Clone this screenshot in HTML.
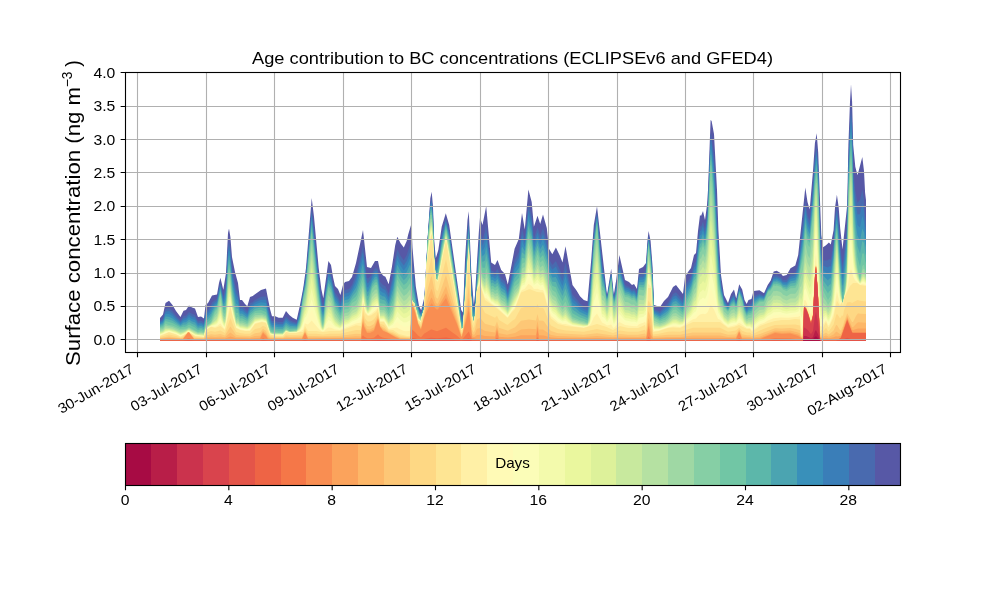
<!DOCTYPE html><html><head><meta charset="utf-8"><style>html,body{margin:0;padding:0;background:#fff;overflow:hidden}svg{display:block;will-change:transform}text{font-family:"Liberation Sans",sans-serif;fill:#000}</style></head><body>
<svg width="1000" height="600" viewBox="0 0 1000 600">
<rect x="0" y="0" width="1000" height="600" fill="#fff"/>
<defs><clipPath id="ax"><rect x="125.5" y="72.5" width="775" height="280"/></clipPath></defs>
<g clip-path="url(#ax)">
<polygon fill="#5758a6" points="160.0,318.0 163.0,314.5 165.5,303.0 169.0,300.8 172.5,305.0 176.0,311.0 180.5,317.0 183.5,310.8 186.0,310.0 189.0,305.5 192.0,307.5 195.0,308.5 198.0,317.0 201.0,316.5 204.0,318.5 205.5,305.0 208.0,303.0 212.0,295.5 217.0,294.6 219.0,283.0 220.4,277.7 223.3,289.7 226.0,273.0 228.0,233.0 229.0,228.6 230.4,237.0 232.0,257.0 235.0,272.0 238.0,283.0 240.0,300.0 242.0,300.0 245.0,304.0 247.3,306.3 250.0,297.0 252.7,296.0 261.0,290.0 266.0,288.6 270.0,309.0 272.0,316.3 275.3,316.3 278.7,317.7 282.7,317.7 286.0,311.0 289.3,315.0 292.7,317.7 296.7,319.7 300.0,305.0 303.3,287.7 306.0,268.0 311.7,198.0 314.0,216.7 318.7,268.0 321.3,289.0 323.3,298.3 328.4,261.0 331.0,265.0 333.0,277.0 335.0,286.0 338.0,289.0 340.4,295.0 343.0,285.0 345.0,282.0 349.0,281.0 352.0,277.0 356.0,263.0 363.0,230.0 367.0,267.0 371.0,268.0 375.0,261.0 378.0,261.0 380.0,271.0 383.0,275.5 385.4,276.8 388.7,284.3 391.9,267.0 395.2,245.3 397.3,236.7 400.6,243.2 403.8,247.5 406.7,241.0 408.2,234.5 411.4,223.7 412.5,247.5 415.8,286.5 419.0,306.0 421.2,310.3 424.4,297.3 427.7,236.7 430.3,198.3 431.7,191.7 433.0,206.7 434.2,240.0 435.8,258.3 438.3,250.0 441.7,226.7 445.8,213.3 449.2,225.0 461.2,310.0 463.0,312.5 465.0,260.0 467.5,220.0 468.8,211.2 471.2,270.0 473.8,305.0 475.0,295.0 478.8,232.5 480.0,217.5 482.5,225.0 486.2,206.0 491.2,262.5 495.0,265.0 497.5,260.0 501.2,270.0 505.0,274.0 507.8,284.5 514.6,248.8 518.8,239.0 522.0,213.0 524.8,229.5 528.4,189.6 531.7,202.0 533.9,226.8 537.5,215.8 540.2,224.0 543.0,214.4 546.8,228.0 549.0,248.8 552.3,254.2 555.9,247.4 560.0,256.0 562.5,262.5 565.5,246.2 572.5,285.0 576.2,290.0 580.0,296.2 583.8,300.0 587.5,301.2 591.2,260.0 593.8,225.0 597.0,206.2 607.0,295.0 611.2,268.8 613.8,295.0 616.2,280.0 619.4,255.0 625.0,280.0 629.0,282.0 632.0,285.0 634.0,284.0 637.0,289.0 639.0,269.0 643.0,267.0 646.0,263.0 647.4,241.0 648.6,231.0 650.6,241.0 652.6,267.0 654.0,305.0 660.0,307.0 664.0,301.0 668.0,297.0 673.0,287.0 676.0,285.0 683.0,294.0 685.0,277.0 688.0,272.0 691.0,268.0 694.0,255.0 696.0,253.0 698.0,231.0 700.0,215.0 701.0,216.0 703.0,211.0 705.0,220.0 707.0,205.0 708.0,190.0 710.6,120.0 711.6,121.0 714.0,134.0 717.0,190.0 718.4,230.0 721.0,275.0 724.0,295.0 728.0,303.0 731.0,294.0 734.0,289.5 736.2,298.5 739.2,284.2 742.2,289.5 744.5,300.0 746.7,304.0 748.5,300.0 751.5,299.0 753.5,291.0 759.5,290.2 764.0,293.2 767.7,285.0 770.7,280.5 773.7,271.5 776.7,270.7 780.5,273.0 782.9,276.0 786.7,275.0 790.5,268.3 795.3,265.4 798.2,254.9 805.3,187.4 807.5,202.0 809.7,209.4 813.0,171.0 814.9,143.3 816.7,133.3 818.2,152.5 821.3,235.0 823.1,247.2 826.0,245.3 828.9,242.5 830.8,244.4 833.6,230.0 835.0,207.6 836.9,194.7 838.7,207.6 840.2,228.3 842.5,249.3 847.2,205.0 848.4,145.0 850.0,101.7 851.0,84.3 852.1,101.7 853.2,145.0 855.3,166.7 857.5,175.3 862.3,157.0 864.0,171.0 865.1,192.7 866.0,200.0 866.0,340.8 160.0,340.8"/>
<polygon fill="#496aaf" points="160.0,321.0 163.0,318.4 165.5,309.1 169.0,308.0 172.5,311.1 176.0,315.8 180.5,320.6 183.5,316.1 186.0,315.6 189.0,311.9 192.0,313.8 195.0,314.9 198.0,321.4 201.0,320.8 204.0,322.5 205.5,311.1 208.0,309.4 211.0,304.7 212.0,302.5 215.0,300.1 217.0,299.1 219.0,287.9 220.4,282.4 223.3,296.5 225.0,289.6 226.0,283.4 228.0,246.2 229.0,240.5 230.4,248.9 232.0,268.1 235.0,284.2 236.0,288.3 238.0,293.1 240.0,306.3 242.0,306.1 247.3,311.3 250.0,303.3 252.7,301.9 255.0,300.0 261.0,296.8 266.0,296.5 270.0,315.3 272.0,321.1 275.3,321.0 278.7,322.1 282.7,322.0 286.0,316.4 290.0,320.2 292.7,321.6 296.7,322.8 300.0,310.1 306.0,273.6 311.7,208.2 318.7,277.1 321.3,297.9 323.3,306.1 328.4,269.4 331.0,273.4 333.0,284.4 335.0,292.8 338.0,296.5 340.4,302.0 343.0,292.9 344.0,291.4 345.0,290.1 349.0,289.1 352.0,284.8 356.0,274.2 363.0,245.4 367.0,278.1 368.0,278.5 371.0,275.8 372.0,273.0 375.0,268.2 377.0,268.2 378.0,269.9 380.0,281.8 383.0,285.0 385.4,286.2 388.7,293.2 391.9,279.1 395.2,258.9 397.3,249.5 400.6,255.9 403.8,260.2 406.7,255.1 410.0,244.9 411.0,244.7 411.4,245.7 412.5,263.9 415.8,293.1 419.0,309.0 421.2,312.7 424.4,300.2 427.7,238.2 430.3,203.3 431.7,198.6 433.0,214.2 434.2,246.5 435.8,264.5 438.3,257.4 441.7,233.8 445.8,218.3 449.2,230.6 461.2,315.0 463.0,317.1 465.0,272.0 467.5,231.3 468.8,219.8 471.2,280.3 473.8,310.5 475.0,301.2 478.8,243.8 480.0,230.2 482.5,239.4 485.0,231.1 486.2,224.5 491.2,270.6 493.0,271.1 495.0,272.7 497.5,268.7 501.2,278.1 505.0,281.5 507.8,290.8 514.6,260.1 518.8,252.2 522.0,228.2 524.8,239.3 528.4,203.5 531.7,215.5 533.9,238.2 537.5,227.3 540.2,235.5 543.0,228.1 546.8,240.5 549.0,259.1 552.3,264.9 555.9,260.9 562.5,275.5 565.5,262.7 572.5,294.6 576.2,298.5 580.0,303.4 583.8,306.3 587.5,307.7 591.0,273.3 593.8,233.3 597.0,211.9 602.0,261.8 607.0,297.6 611.2,272.2 613.8,298.2 616.2,285.5 619.4,263.1 625.0,285.1 629.0,286.7 632.0,289.5 634.0,288.6 637.0,293.2 639.0,275.1 643.0,274.0 644.0,272.9 646.0,268.5 647.4,246.3 648.6,235.2 650.6,247.8 652.6,274.3 654.0,308.9 660.0,311.4 664.0,306.7 668.0,303.1 673.0,293.9 676.0,292.3 683.0,300.3 685.0,285.6 691.0,276.2 694.0,263.8 696.0,261.6 698.0,241.2 700.0,226.0 701.0,226.6 703.0,221.4 705.0,229.1 707.0,214.6 708.0,200.2 710.6,133.6 711.0,133.7 711.6,136.2 714.0,155.5 715.6,183.0 718.4,247.2 721.0,282.2 724.0,298.9 728.0,305.7 731.0,297.8 734.0,294.1 736.2,301.6 739.2,287.3 742.2,293.3 744.5,303.6 746.7,307.9 748.5,304.5 751.5,303.6 753.5,296.1 759.5,293.8 764.0,295.8 767.7,287.3 770.7,283.4 773.7,275.6 776.7,275.1 780.5,277.1 782.9,280.0 786.7,279.8 790.5,274.2 795.3,272.2 798.2,263.2 805.3,200.8 807.5,214.4 809.7,220.7 813.0,184.1 814.9,156.0 816.7,145.5 818.2,165.7 819.4,204.8 821.3,248.7 823.1,260.2 826.0,260.5 828.0,260.3 828.9,259.1 830.8,259.8 833.6,241.3 835.0,219.2 836.9,205.8 838.7,222.3 840.2,243.9 842.5,265.9 845.0,245.3 847.2,221.1 848.4,161.4 850.0,121.2 851.0,105.5 852.1,122.8 853.2,165.9 855.3,190.8 857.5,202.8 860.0,199.8 862.3,189.6 864.0,198.9 865.1,215.8 866.0,221.5 866.0,340.8 160.0,340.8"/>
<polygon fill="#3a7eb8" points="160.0,322.3 163.0,320.0 165.5,311.7 169.0,311.1 172.5,313.7 176.0,317.8 180.5,322.1 183.5,318.4 186.0,317.9 189.0,314.6 192.0,316.5 195.0,317.6 198.0,323.3 201.0,322.7 204.0,324.2 205.5,313.7 208.0,312.1 211.0,307.8 212.0,305.5 215.0,302.2 217.0,301.0 219.0,290.0 220.4,284.5 223.3,299.3 225.0,294.0 226.0,287.8 228.0,251.7 229.0,245.6 230.4,253.9 232.0,272.8 235.0,289.4 236.0,293.7 238.0,297.3 240.0,308.9 242.0,308.7 247.3,313.4 250.0,305.9 252.7,304.3 255.0,302.3 261.0,299.7 266.0,299.8 270.0,317.9 272.0,323.1 275.3,323.0 278.7,323.9 282.7,323.9 286.0,318.7 290.0,322.1 292.7,323.2 296.7,324.1 300.0,312.2 306.0,276.0 311.7,212.5 318.7,280.9 321.3,301.7 323.3,309.4 326.0,287.6 328.4,273.0 331.0,276.9 335.0,295.7 338.0,299.7 340.4,305.0 343.0,296.3 345.0,293.6 349.0,292.5 352.0,288.1 356.0,279.0 363.0,251.9 367.0,282.7 368.0,283.3 371.0,279.1 372.0,275.9 375.0,271.3 377.0,271.2 378.0,273.6 380.0,286.3 383.0,289.0 384.0,289.2 385.4,290.2 388.7,297.0 393.0,279.0 395.2,264.6 397.3,254.9 400.6,261.2 403.8,265.6 406.7,261.1 410.0,251.9 411.0,253.1 411.4,255.1 412.5,270.8 415.8,295.9 419.0,310.2 421.2,313.7 424.4,301.5 427.7,238.8 430.3,205.5 431.7,201.6 433.0,217.3 434.2,249.2 435.8,267.2 438.3,260.6 441.7,236.8 445.8,220.4 449.2,232.9 461.2,317.1 463.0,319.0 465.0,277.0 467.5,236.1 468.8,223.5 471.2,284.6 473.8,312.8 475.0,303.8 478.8,248.6 480.0,235.6 482.5,245.5 485.0,239.0 486.2,232.3 488.8,251.1 491.2,274.0 493.0,274.3 495.0,276.0 497.5,272.4 501.2,281.5 505.0,284.7 507.8,293.5 514.6,264.9 518.8,257.7 522.0,234.7 524.8,243.5 528.4,209.4 531.7,221.2 533.9,243.1 537.5,232.2 540.2,240.4 543.0,233.9 546.8,245.8 549.0,263.4 552.3,269.4 555.9,266.6 562.5,281.1 565.5,269.7 572.5,298.6 576.2,302.1 580.0,306.4 583.8,308.9 587.5,310.5 590.0,290.0 593.8,236.9 597.0,214.2 602.0,266.9 604.0,277.6 607.0,298.7 611.2,273.7 613.8,299.6 616.2,287.8 619.4,266.5 625.0,287.3 629.0,288.6 632.0,291.4 634.0,290.5 637.0,295.0 639.0,277.6 643.0,276.9 644.0,276.0 646.0,270.9 647.4,248.6 648.6,237.0 650.6,250.7 652.6,277.4 654.0,310.5 660.0,313.2 664.0,309.1 668.0,305.7 673.0,296.8 676.0,295.4 683.0,303.0 685.0,289.3 691.0,279.7 694.0,267.5 696.0,265.2 698.0,245.5 700.0,230.7 701.0,231.1 703.0,225.8 705.0,232.9 707.0,218.6 708.0,204.6 710.6,139.3 711.0,139.4 711.6,142.6 714.0,164.7 718.4,254.5 721.0,285.3 724.0,300.6 728.0,306.8 731.0,299.4 734.0,296.1 736.2,302.9 739.2,288.6 742.2,294.9 744.5,305.2 746.7,309.6 748.5,306.4 751.5,305.5 753.5,298.2 759.5,295.3 764.0,296.8 767.7,288.2 770.7,284.7 773.7,277.3 775.0,277.5 776.7,277.0 780.5,278.8 782.9,281.7 786.7,281.9 790.5,276.8 795.3,275.0 798.2,266.7 803.0,229.0 805.3,206.5 807.5,219.6 809.7,225.5 813.0,189.7 814.9,161.4 816.7,150.7 818.2,171.2 820.0,227.6 821.3,254.5 823.1,265.7 828.0,267.5 828.9,266.2 830.8,266.3 833.6,246.0 835.0,224.1 836.9,210.6 838.7,228.6 840.2,250.5 842.5,272.9 845.0,253.3 847.2,227.8 848.4,168.4 850.0,129.4 851.0,114.5 852.1,131.8 853.2,174.7 855.3,201.1 857.5,214.5 860.0,214.2 862.3,203.4 864.0,210.7 865.1,225.5 866.0,230.6 866.0,340.8 160.0,340.8"/>
<polygon fill="#3990ba" points="160.0,323.4 163.0,321.5 165.5,314.0 169.0,313.9 172.5,316.0 176.0,319.6 180.5,323.5 183.5,320.4 186.0,320.1 189.0,317.0 192.0,318.9 195.0,320.1 198.0,325.0 201.0,324.3 204.0,325.8 205.5,316.1 208.0,314.5 211.0,310.7 212.0,308.2 215.0,304.2 217.0,302.8 219.0,291.8 220.4,286.3 223.3,301.9 225.0,298.0 226.0,291.8 228.0,256.8 229.0,250.2 230.4,258.5 232.0,277.1 235.0,294.1 236.0,298.5 238.0,301.2 240.0,311.3 242.0,311.1 247.3,315.3 250.0,308.3 252.7,306.6 255.0,304.4 261.0,302.3 266.0,302.9 270.0,320.3 272.0,324.9 275.3,324.8 278.7,325.6 282.7,325.6 286.0,320.7 290.0,323.9 296.7,325.3 300.0,314.2 306.0,278.2 311.7,216.4 318.7,284.4 321.3,305.2 323.0,312.2 323.3,312.4 326.0,290.1 328.4,276.2 331.0,280.1 335.0,298.4 338.0,302.5 340.4,307.6 343.0,299.3 345.0,296.7 348.0,296.2 349.0,295.7 352.0,291.0 356.0,283.3 363.0,257.8 367.0,287.0 368.0,287.6 371.0,282.0 372.0,278.5 375.0,274.0 377.0,274.0 378.0,277.1 380.0,290.4 383.0,292.7 384.0,292.8 385.4,293.9 388.7,300.4 393.0,284.2 395.2,269.9 397.3,259.8 400.6,266.1 403.8,270.5 406.7,266.5 410.0,258.2 411.0,260.6 412.5,277.1 415.8,298.5 419.0,311.3 421.2,314.6 424.4,302.6 427.7,239.3 430.3,207.4 431.7,204.2 433.0,220.2 434.2,251.7 435.8,269.6 437.0,267.4 438.3,263.4 441.7,239.5 445.8,222.3 449.2,235.1 457.5,290.8 461.2,319.0 462.0,320.2 463.0,320.8 467.5,240.4 468.8,226.8 471.2,288.6 473.8,314.9 475.0,306.2 478.8,253.0 480.0,240.5 482.5,251.0 485.0,246.2 486.2,239.5 488.8,256.1 491.2,277.2 492.0,276.9 493.0,277.1 495.0,278.9 497.5,275.8 501.2,284.6 505.0,287.6 507.8,295.9 514.6,269.2 518.8,262.8 521.0,249.2 522.0,240.5 524.8,247.3 528.4,214.8 531.7,226.4 533.9,247.5 537.5,236.6 540.2,244.8 543.0,239.1 546.8,250.7 549.0,267.4 552.3,273.5 555.9,271.7 562.5,286.1 565.5,276.1 572.5,302.3 576.2,305.3 580.0,309.2 583.8,311.3 587.5,313.0 590.0,294.4 593.8,240.1 597.0,216.4 602.0,271.5 604.0,280.4 607.0,299.6 611.2,275.0 613.8,300.8 616.2,289.9 619.4,269.6 625.0,289.2 629.0,290.4 632.0,293.1 634.0,292.3 637.0,296.7 639.0,280.0 643.0,279.6 644.0,278.8 646.0,273.0 647.4,250.6 648.6,238.6 650.6,253.4 652.6,280.2 654.0,312.0 660.0,314.9 668.0,308.0 673.0,299.4 676.0,298.2 683.0,305.4 685.0,292.6 691.0,282.8 694.0,270.9 696.0,268.5 698.0,249.4 700.0,234.9 701.0,235.2 703.0,229.8 705.0,236.4 707.0,222.3 708.0,208.5 710.6,144.5 711.0,144.5 714.0,172.9 718.4,261.1 721.0,288.1 724.0,302.1 728.0,307.9 731.0,300.8 734.0,297.9 736.2,304.1 739.2,289.7 742.2,296.3 744.5,306.6 746.7,311.1 748.5,308.2 751.5,307.3 753.5,300.1 759.5,296.7 764.0,297.8 767.7,289.1 770.7,285.8 773.7,278.9 775.0,279.2 776.7,278.6 780.5,280.4 782.9,283.3 786.7,283.7 790.5,279.0 795.3,277.6 798.2,269.9 803.0,234.8 805.3,211.6 807.5,224.3 809.7,229.8 813.0,194.8 814.9,166.3 816.7,155.4 818.2,176.3 820.0,234.1 821.3,259.7 823.1,270.6 828.0,274.0 828.9,272.5 830.8,272.2 833.6,250.3 835.0,228.6 836.9,214.9 838.7,234.2 840.2,256.5 842.5,279.3 843.0,277.8 845.0,260.5 847.2,234.0 848.4,174.7 850.0,136.9 851.0,122.7 852.1,139.9 853.2,182.7 855.3,210.3 857.5,225.1 860.0,227.4 862.3,216.0 864.0,221.4 865.1,234.4 866.0,238.9 866.0,340.8 160.0,340.8"/>
<polygon fill="#4ba4b1" points="160.0,324.6 163.0,323.0 165.5,316.4 166.0,316.4 169.0,316.7 172.5,318.4 180.5,324.9 183.5,322.5 186.0,322.2 189.0,319.5 192.0,321.4 195.0,322.6 198.0,326.7 201.0,326.0 204.0,327.3 205.5,318.5 208.0,317.0 211.0,313.5 212.0,310.9 215.0,306.1 217.0,304.5 220.4,288.1 223.3,304.5 225.0,302.0 226.0,295.8 228.0,261.8 229.0,254.8 230.4,263.0 232.0,281.4 235.0,298.8 236.0,303.4 238.0,305.1 240.0,313.8 242.0,313.4 247.3,317.2 250.0,310.8 255.0,306.6 261.0,304.9 262.0,305.0 266.0,305.9 270.0,322.8 272.0,326.8 275.3,326.6 278.7,327.3 282.7,327.2 286.0,322.8 290.0,325.7 296.7,326.5 300.0,316.1 303.0,296.3 306.0,280.3 311.7,220.3 318.7,287.9 321.3,308.6 323.0,315.4 323.3,315.4 324.0,310.1 326.0,292.6 328.4,279.5 331.0,283.3 335.0,301.0 338.0,305.4 340.4,310.3 343.0,302.4 344.0,300.9 345.0,299.9 348.0,299.4 349.0,298.8 356.0,287.6 357.0,285.1 363.0,263.7 367.0,291.2 368.0,292.0 371.0,285.0 372.0,281.2 375.0,276.8 377.0,276.7 378.0,280.5 380.0,294.6 383.0,296.4 384.0,296.3 385.4,297.5 388.7,303.9 393.0,289.4 395.2,275.1 397.3,264.7 400.6,271.0 403.8,275.4 406.7,271.9 410.0,264.5 411.0,268.2 412.5,283.4 414.0,290.0 415.8,301.0 418.0,307.8 419.0,312.5 421.2,315.5 424.0,306.2 424.4,303.8 427.7,239.9 430.3,209.3 431.7,206.9 433.0,223.1 434.2,254.2 435.8,272.0 437.0,270.2 438.3,266.3 441.7,242.3 445.8,224.2 446.0,224.5 449.2,237.2 457.5,292.5 461.0,319.3 461.2,320.9 462.0,322.1 463.0,322.6 467.5,244.8 468.8,230.1 471.2,292.5 472.0,302.8 473.8,317.0 475.0,308.6 478.8,257.4 480.0,245.3 482.5,256.6 485.0,253.4 486.2,246.6 488.8,261.1 491.2,280.3 492.0,279.8 493.0,280.0 495.0,281.9 497.5,279.1 501.2,287.7 505.0,290.5 507.8,298.4 514.6,273.6 518.8,267.9 521.0,255.2 522.0,246.4 524.8,251.1 528.4,220.1 531.7,231.6 533.9,251.9 537.5,241.1 540.2,249.3 543.0,244.4 546.8,255.5 549.0,271.4 551.0,274.6 552.3,277.6 555.9,276.9 562.5,291.1 565.5,282.4 572.5,305.9 576.2,308.6 580.0,311.9 587.5,315.4 590.0,298.8 593.8,243.3 597.0,218.5 602.0,276.1 603.8,282.1 605.0,288.1 607.0,300.6 611.2,276.4 613.8,302.0 616.2,292.0 619.4,272.6 625.0,291.2 629.0,292.2 632.0,294.8 634.0,294.1 637.0,298.3 639.0,282.3 643.0,282.3 644.0,281.6 646.0,275.2 647.4,252.7 648.6,240.2 650.6,256.0 652.6,283.0 654.0,313.5 660.0,316.6 664.0,313.5 665.0,313.1 668.0,310.4 673.0,302.1 676.0,301.0 683.0,307.8 685.0,295.9 686.0,294.8 691.0,286.0 694.0,274.3 696.0,271.8 698.0,253.3 700.0,239.2 701.0,239.3 703.0,233.8 705.0,239.9 707.0,225.9 708.0,212.4 710.6,149.8 711.0,149.6 714.0,181.2 718.4,267.8 721.0,290.9 722.0,293.7 724.0,303.6 728.0,308.9 731.0,302.3 734.0,299.7 736.2,305.3 739.2,290.9 742.2,297.8 744.5,308.0 746.7,312.6 748.5,309.9 751.5,309.1 753.5,302.1 759.5,298.0 764.0,298.8 767.7,290.0 770.7,287.0 773.7,280.5 775.0,280.9 776.7,280.3 780.5,282.0 782.9,284.8 786.7,285.6 790.5,281.3 795.3,280.2 798.2,273.2 803.0,240.6 805.3,216.8 807.5,229.1 809.7,234.2 813.0,199.8 814.9,171.2 816.7,160.1 818.2,181.3 820.0,240.6 821.3,265.0 823.1,275.6 828.0,280.5 828.9,278.9 830.8,278.1 833.6,254.7 835.0,233.0 836.9,219.1 840.2,262.5 842.5,285.7 843.0,284.9 846.0,258.2 847.2,240.2 848.4,181.0 850.0,144.4 851.0,130.9 852.1,148.0 853.2,190.7 856.0,225.5 857.5,235.7 860.0,240.5 862.3,228.5 863.0,229.9 864.0,232.2 865.1,243.3 866.0,247.2 866.0,340.8 160.0,340.8"/>
<polygon fill="#5cb7aa" points="160.0,325.7 163.0,324.5 165.5,318.7 169.0,319.4 172.5,320.7 180.5,326.2 183.5,324.5 184.0,324.8 186.0,324.4 189.0,322.0 192.0,323.8 195.0,325.1 198.0,328.4 201.0,327.7 204.0,328.9 205.5,320.8 208.0,319.4 211.0,316.3 212.0,313.6 215.0,308.1 217.0,306.2 220.4,289.9 223.3,307.1 225.0,306.0 226.0,299.8 228.0,266.9 229.0,259.4 230.4,267.6 232.0,285.7 235.0,303.5 236.0,308.3 238.0,308.9 240.0,316.2 242.0,315.8 247.3,319.1 250.0,313.2 255.0,308.7 261.0,307.5 262.0,307.7 266.0,308.9 270.0,325.2 272.0,328.6 275.3,328.4 278.7,329.0 282.7,328.9 286.0,324.9 290.0,327.4 296.7,327.7 300.0,318.1 303.0,297.5 306.0,282.5 311.7,224.2 318.0,285.6 321.3,312.0 323.0,318.7 324.0,313.1 326.0,295.1 328.4,282.7 331.0,286.6 335.0,303.6 338.0,308.3 340.4,313.0 343.0,305.5 344.0,303.9 345.0,303.0 348.0,302.6 349.0,301.9 353.0,295.6 356.0,291.9 357.0,289.8 363.0,269.7 367.0,295.5 368.0,296.3 371.0,288.0 372.0,283.8 375.0,279.6 377.0,279.5 378.0,283.9 380.0,298.7 383.0,300.0 384.0,299.9 385.4,301.1 388.7,307.3 393.0,294.6 395.2,280.3 397.3,269.7 400.6,275.8 403.8,280.2 406.7,277.3 410.0,270.9 411.0,275.8 412.5,289.7 414.0,294.3 415.8,303.6 418.0,309.2 419.0,313.6 421.2,316.5 424.0,307.5 424.4,304.9 427.7,240.5 430.3,211.3 431.7,209.6 433.0,226.0 434.2,256.7 435.8,274.4 437.0,273.0 438.3,269.1 441.7,245.0 445.8,226.1 446.0,226.3 449.2,239.4 457.5,294.2 461.0,321.3 461.2,322.8 462.0,324.1 463.0,324.4 467.5,249.1 468.8,233.4 471.2,296.5 472.0,306.7 473.8,319.1 475.0,311.0 478.8,261.7 480.0,250.2 482.5,262.1 485.0,260.6 486.2,253.7 488.8,266.1 491.2,283.4 492.0,282.8 493.0,282.8 495.0,284.8 497.5,282.5 501.2,290.8 505.0,293.4 507.8,300.8 514.6,277.9 518.8,272.9 521.0,261.2 522.0,252.3 524.8,254.8 528.4,225.5 531.7,236.8 533.9,256.3 537.5,245.5 540.2,253.7 543.0,249.6 546.8,260.3 549.0,275.3 551.0,278.5 552.3,281.7 555.9,282.1 558.0,287.3 562.5,296.1 565.5,288.8 572.5,309.6 580.0,314.7 587.5,317.9 590.0,303.2 593.8,246.5 597.0,220.7 602.0,280.8 603.8,285.1 605.0,290.1 607.0,301.6 611.2,277.7 613.8,303.3 616.2,294.0 619.4,275.7 625.0,293.1 629.0,294.0 632.0,296.5 634.0,295.8 637.0,299.9 639.0,284.7 643.0,284.9 644.0,284.4 646.0,277.3 647.4,254.7 648.6,241.8 650.6,258.6 652.6,285.8 654.0,315.0 660.0,318.2 664.0,315.7 665.0,315.4 668.0,312.7 673.0,304.7 676.0,303.8 683.0,310.3 685.0,299.2 686.0,298.2 691.0,289.1 694.0,277.6 696.0,275.1 698.0,257.2 700.0,243.4 701.0,243.4 703.0,237.8 705.0,243.4 707.0,229.6 708.0,216.4 710.6,155.0 711.0,154.7 714.0,189.5 718.4,274.4 721.0,293.7 722.0,295.8 724.0,305.1 728.0,309.9 731.0,303.7 734.0,301.4 736.2,306.5 739.2,292.1 742.2,299.2 744.5,309.4 746.7,314.1 748.5,311.6 751.5,310.8 753.5,304.0 759.5,299.4 764.0,299.8 768.0,290.3 770.7,288.1 773.7,282.1 775.0,282.6 776.7,282.0 780.5,283.6 782.9,286.4 786.7,287.4 790.5,283.6 795.3,282.8 798.2,276.4 803.0,246.4 805.3,221.9 807.5,233.9 809.7,238.6 813.0,204.9 814.9,176.1 816.7,164.8 818.2,186.4 820.0,247.0 821.3,270.2 823.1,280.6 828.0,287.0 828.9,285.3 830.8,284.0 833.6,259.0 835.0,237.5 836.9,223.4 840.2,268.5 842.5,292.1 843.0,291.9 846.0,265.4 847.2,246.4 848.4,187.4 850.0,151.9 851.0,139.0 852.1,156.2 853.2,198.8 856.0,235.3 857.5,246.3 860.0,253.7 862.3,241.0 864.0,242.9 865.1,252.2 866.0,255.4 866.0,340.8 160.0,340.8"/>
<polygon fill="#71c6a5" points="160.0,326.9 163.0,326.0 165.5,321.1 172.5,323.1 180.5,327.6 183.5,326.6 184.0,326.9 186.0,326.5 189.0,324.4 195.0,327.5 198.0,330.2 201.0,329.3 204.0,330.4 205.5,323.2 208.0,321.9 211.0,319.2 215.0,310.0 217.0,308.0 220.4,291.8 223.3,309.7 224.0,309.5 225.0,310.0 226.0,303.8 228.0,272.0 229.0,264.0 230.4,272.2 232.0,289.9 235.0,308.2 236.0,313.1 238.0,312.8 240.0,318.6 242.0,318.2 247.3,321.0 250.0,315.6 255.0,310.9 261.0,310.1 266.0,312.0 270.0,327.6 272.0,330.4 275.3,330.2 278.7,330.7 282.7,330.6 286.0,326.9 290.0,329.2 296.7,328.9 300.0,320.0 303.0,298.8 306.0,284.7 311.7,228.1 316.7,278.9 321.3,315.5 322.0,319.1 323.0,321.9 324.0,316.1 326.0,297.5 328.4,286.0 331.0,289.8 335.0,306.3 340.4,315.7 343.0,308.5 344.0,307.0 345.0,306.1 348.0,305.8 349.0,305.0 352.0,300.0 356.0,296.2 357.0,294.5 363.0,275.6 367.0,299.8 368.0,300.7 371.0,291.0 372.0,286.4 375.0,282.4 377.0,282.2 378.0,287.3 380.0,302.9 383.0,303.7 384.0,303.4 385.4,304.7 388.7,310.8 393.0,299.8 397.3,274.6 400.6,280.7 403.8,285.1 406.7,282.8 410.0,277.2 412.5,296.0 414.0,298.7 415.8,306.1 418.0,310.6 419.0,314.8 421.2,317.4 424.0,308.7 424.4,306.0 427.7,241.0 430.3,213.2 431.7,212.2 433.0,228.8 434.2,259.2 435.8,276.7 437.0,275.8 438.3,272.0 441.7,247.7 446.0,228.2 449.2,241.5 457.5,295.8 460.0,316.6 461.2,324.7 462.0,326.0 463.0,326.1 468.8,236.7 471.2,300.4 472.0,310.7 473.8,321.2 475.0,313.4 478.8,266.1 480.0,255.1 482.5,267.7 485.0,267.8 486.2,260.8 488.8,271.1 491.2,286.5 492.0,285.7 493.0,285.7 495.0,287.8 497.5,285.8 501.2,293.9 505.0,296.3 507.8,303.2 514.6,282.3 518.8,278.0 521.0,267.2 522.0,258.1 523.0,258.0 524.8,258.6 528.4,230.8 531.7,242.0 533.9,260.7 537.5,250.0 538.0,250.7 540.2,258.1 543.0,254.9 546.8,265.1 549.0,279.3 551.0,282.4 552.3,285.8 555.9,287.3 558.0,292.6 562.5,301.1 565.5,295.1 572.5,313.3 580.0,317.4 584.0,318.7 587.5,320.4 590.0,307.6 593.8,249.7 597.0,222.8 602.0,285.4 603.8,288.1 605.0,292.1 607.0,302.6 611.2,279.0 613.8,304.5 616.2,296.1 619.4,278.8 625.0,295.1 627.0,295.2 629.0,295.8 632.0,298.3 634.0,297.6 637.0,301.6 639.0,287.0 643.0,287.6 644.0,287.2 646.0,279.4 648.6,243.4 650.6,261.3 652.6,288.6 654.0,316.5 660.0,319.9 664.0,317.9 665.0,317.7 668.0,315.1 673.0,307.4 676.0,306.6 683.0,312.7 685.0,302.6 686.0,301.6 691.0,292.3 694.0,281.0 696.0,278.3 700.0,247.6 701.0,247.5 703.0,241.8 705.0,246.9 707.0,233.3 708.0,220.3 710.6,160.2 711.0,159.9 714.0,197.8 718.4,281.0 721.0,296.5 722.0,297.9 724.0,306.6 728.0,311.0 731.0,305.2 734.0,303.2 736.2,307.7 739.2,293.3 742.2,300.7 744.5,310.8 746.7,315.6 748.5,313.4 751.5,312.6 753.5,306.0 759.5,300.8 764.0,300.8 768.0,291.1 770.7,289.2 773.7,283.7 775.0,284.3 776.7,283.7 780.5,285.1 782.0,286.5 782.9,287.9 786.7,289.3 790.5,285.9 795.3,285.5 798.2,279.6 803.0,252.2 805.3,227.1 807.5,238.6 808.0,240.3 809.7,242.9 813.0,209.9 814.9,181.0 816.7,169.5 818.2,191.5 820.0,253.5 821.3,275.5 823.1,285.6 828.0,293.5 828.9,291.7 830.8,289.9 831.0,289.1 833.6,263.3 835.0,242.0 836.9,227.7 840.2,274.5 842.5,298.4 843.0,299.0 846.0,272.7 847.2,252.5 848.4,193.7 850.0,159.4 851.0,147.2 852.1,164.3 853.2,206.8 855.3,238.2 857.0,253.0 857.5,256.9 860.0,266.8 862.3,253.6 864.0,253.6 865.1,261.1 866.0,263.7 866.0,340.8 160.0,340.8"/>
<polygon fill="#86cfa5" points="160.0,328.0 163.0,327.5 165.5,323.4 169.0,325.0 172.5,325.4 180.5,329.0 186.0,328.6 189.0,326.9 198.0,331.9 201.0,331.0 204.0,332.0 205.5,325.5 206.0,325.0 208.0,324.4 211.0,322.0 215.0,312.0 217.0,309.7 220.4,293.6 223.3,312.3 225.0,314.0 226.0,307.8 228.0,277.0 229.0,268.6 230.4,276.7 232.0,294.2 236.0,318.0 238.0,316.7 240.0,321.0 242.0,320.5 247.3,322.9 250.0,318.0 255.0,313.0 261.0,312.7 266.0,315.0 270.0,330.0 272.0,332.3 275.3,332.0 278.7,332.4 282.7,332.2 286.0,329.0 290.0,331.0 296.7,330.1 300.0,322.0 303.0,300.0 306.0,286.8 311.7,232.0 316.0,277.5 321.3,318.9 322.0,322.6 323.0,325.1 324.0,319.1 326.0,300.0 328.4,289.2 331.0,293.0 335.0,308.9 340.4,318.4 343.0,311.6 344.0,310.0 345.0,309.2 348.0,309.0 349.0,308.2 352.0,303.0 356.0,300.6 357.0,299.1 363.0,281.5 367.0,304.0 368.0,305.0 372.0,289.0 375.0,285.1 377.0,285.0 380.0,307.0 383.0,307.3 384.0,307.0 385.4,308.4 388.7,314.2 393.0,305.0 397.3,279.5 400.6,285.6 403.8,290.0 406.7,288.2 410.0,283.6 412.0,300.8 412.5,302.3 413.0,302.2 414.0,303.0 415.8,308.7 418.0,312.0 419.0,315.9 421.2,318.3 424.0,310.0 424.4,307.1 427.7,241.6 430.3,215.1 431.7,214.9 433.0,231.7 434.2,261.7 435.8,279.1 437.0,278.6 438.3,274.8 441.7,250.5 446.0,230.0 449.2,243.6 457.5,297.5 460.0,318.7 461.2,326.7 462.0,328.0 463.0,327.9 468.8,240.0 471.2,304.4 472.0,314.6 473.8,323.3 475.0,315.8 478.8,270.4 480.0,260.0 482.5,273.2 485.0,275.0 486.2,268.0 488.8,276.2 491.2,289.6 492.0,288.7 493.0,288.6 495.0,290.7 497.5,289.2 500.0,295.0 501.2,297.0 505.0,299.2 507.8,305.7 514.6,286.6 518.8,283.1 521.0,273.2 522.0,264.0 523.0,263.0 524.8,262.4 528.4,236.2 531.7,247.2 533.9,265.1 537.5,254.4 538.0,255.0 540.2,262.6 543.0,260.2 546.8,270.0 549.0,283.3 551.0,286.4 552.3,289.9 555.9,292.4 558.0,297.9 562.5,306.1 565.5,301.4 567.0,305.5 572.5,317.0 580.0,320.2 583.8,321.0 587.5,322.9 590.0,312.0 593.8,252.9 597.0,225.0 602.0,290.0 603.0,290.3 603.8,291.1 605.0,294.2 607.0,303.6 611.2,280.4 613.8,305.8 616.2,298.2 619.4,281.9 625.0,297.1 628.0,297.2 632.0,300.0 634.0,299.4 637.0,303.2 639.0,289.3 643.0,290.3 644.0,290.0 646.0,281.6 648.6,245.0 650.6,263.9 652.6,291.5 654.0,318.0 660.0,321.6 664.0,320.0 665.0,320.0 668.0,317.4 673.0,310.0 676.0,309.4 680.0,313.0 683.0,315.1 685.0,305.9 686.0,305.0 691.0,295.5 694.0,284.4 696.0,281.6 700.0,251.9 701.0,251.6 703.0,245.8 705.0,250.4 707.0,237.0 708.0,224.2 710.6,165.4 711.0,165.0 714.0,206.1 718.0,285.0 720.0,293.2 721.0,299.2 722.0,300.0 724.0,308.1 728.0,312.0 731.0,306.6 734.0,305.0 736.2,309.0 739.2,294.5 742.2,302.1 744.5,312.2 746.7,317.1 748.5,315.1 750.0,315.0 751.5,314.4 753.5,307.9 759.5,302.2 764.0,301.8 768.0,292.0 770.7,290.4 773.7,285.2 775.0,286.0 776.7,285.4 780.5,286.7 782.0,288.0 782.9,289.5 786.7,291.2 790.5,288.2 795.3,288.1 798.2,282.8 800.1,271.5 803.0,258.0 805.3,232.2 807.5,243.4 808.0,245.0 809.7,247.3 813.0,215.0 814.9,185.9 816.7,174.2 818.2,196.5 820.0,260.0 821.3,280.8 823.1,290.6 828.0,300.0 831.0,295.0 833.6,267.7 835.0,246.4 836.9,232.0 840.2,280.5 842.5,304.8 843.0,306.0 846.0,280.0 847.2,258.7 848.4,200.0 850.0,166.9 851.0,155.4 852.1,172.4 853.2,214.8 855.3,247.5 857.5,267.5 860.0,280.0 862.3,266.1 864.0,264.4 865.1,269.9 866.0,272.0 866.0,340.8 160.0,340.8"/>
<polygon fill="#9fd8a4" points="160.0,329.6 163.0,328.9 165.5,325.5 172.5,327.0 180.5,330.6 186.0,329.6 189.0,327.9 198.0,332.8 201.0,332.2 204.0,333.0 205.5,326.8 206.0,326.0 208.0,325.2 211.0,322.9 215.0,315.2 217.0,313.1 220.4,298.7 223.3,315.5 225.0,317.2 226.0,311.2 228.0,282.7 229.0,274.4 230.4,281.7 232.0,297.9 236.0,320.0 238.0,319.1 240.0,322.8 242.0,322.5 247.3,324.5 250.0,320.6 255.0,315.2 262.0,314.8 266.0,316.6 270.0,330.9 272.0,332.8 282.7,332.9 286.0,329.6 290.0,331.4 296.7,330.6 300.0,324.0 303.0,305.1 306.0,292.5 311.7,241.8 317.0,291.4 321.0,319.8 322.0,324.5 323.0,326.5 324.0,321.6 326.0,305.1 328.4,295.0 331.0,298.5 335.0,312.9 339.0,319.3 340.4,320.9 343.0,315.1 344.0,313.7 345.0,313.0 348.0,312.6 349.0,311.8 352.0,307.2 356.0,304.9 357.0,303.6 361.0,292.8 363.0,285.5 367.0,306.2 368.0,307.2 371.0,298.0 372.0,293.5 375.0,289.8 377.0,289.4 378.0,294.1 380.0,310.0 383.0,310.3 384.0,310.0 385.4,311.5 388.7,317.3 393.0,309.4 397.3,285.5 400.6,291.5 403.8,295.9 406.7,294.1 410.0,289.6 412.5,302.3 413.0,302.2 414.0,303.0 419.0,316.9 421.2,318.8 424.0,310.0 424.4,307.1 427.7,244.7 430.3,219.6 431.7,218.6 433.0,234.6 434.2,261.7 435.8,279.1 437.0,279.2 438.3,275.9 441.7,252.9 446.0,232.0 449.2,246.6 457.5,299.4 461.0,325.9 461.2,327.4 462.0,328.4 463.0,327.9 468.8,242.0 471.2,304.4 472.0,315.0 473.8,323.3 475.0,315.8 477.0,290.0 480.0,264.4 482.5,276.9 485.0,279.4 486.2,273.1 488.8,280.7 491.2,292.5 492.0,291.8 493.0,291.8 495.0,293.9 497.5,292.9 501.2,300.0 505.0,302.4 507.8,308.1 514.6,290.7 518.8,286.1 521.0,276.9 522.0,268.7 523.0,267.8 524.8,267.2 528.4,242.2 531.7,253.0 533.9,269.6 537.5,260.0 538.0,260.5 540.2,267.5 543.0,265.3 546.8,275.3 549.0,288.1 551.0,291.5 552.3,294.8 555.9,297.4 558.0,302.4 562.5,309.8 565.5,305.8 567.0,309.3 572.5,318.9 580.0,321.6 583.8,322.4 587.5,323.7 590.0,314.8 593.8,260.0 597.0,234.8 602.0,295.4 603.0,295.6 603.8,296.4 605.0,299.3 607.0,307.8 611.2,286.3 613.8,310.0 616.2,303.1 619.4,287.8 625.0,302.0 628.0,302.2 632.0,304.7 634.0,304.2 637.0,307.6 639.0,294.9 643.0,295.7 644.0,295.4 646.0,287.5 648.6,250.8 651.0,273.3 654.0,320.8 660.0,323.4 665.0,321.8 668.0,319.6 673.0,313.4 676.0,312.9 680.0,316.0 683.0,317.4 685.0,309.6 686.0,308.8 691.0,300.1 694.0,289.9 696.0,287.3 698.0,271.0 700.0,258.8 701.0,258.5 703.0,253.3 705.0,257.5 707.0,245.3 708.0,233.9 710.6,180.8 711.0,180.5 714.0,217.5 718.0,290.5 720.0,298.0 721.0,303.5 722.0,304.2 724.0,311.4 728.0,315.2 731.0,310.5 734.0,309.0 736.2,312.3 739.2,299.4 742.2,306.5 744.5,315.3 746.7,319.5 747.0,319.4 748.5,317.9 751.5,317.7 753.5,312.1 759.5,306.5 764.0,305.9 768.0,297.0 770.7,295.5 773.7,290.7 775.0,291.3 776.7,290.8 780.5,292.0 782.0,293.2 782.9,294.6 786.7,296.2 790.5,293.7 795.3,293.8 798.2,289.3 800.0,280.0 801.0,277.6 803.0,269.4 805.3,243.7 807.5,253.8 808.0,255.4 809.7,258.2 813.0,230.4 815.0,191.0 816.0,183.3 816.7,183.0 818.2,212.3 820.0,271.2 821.3,289.0 822.0,292.3 823.1,297.1 826.0,301.1 828.0,305.0 831.0,300.2 833.6,275.8 835.0,254.0 836.9,235.9 840.2,285.3 842.5,304.8 843.0,306.0 846.0,282.9 847.2,264.7 848.4,210.1 850.0,175.0 851.0,164.1 852.1,183.4 853.2,223.7 856.0,260.2 857.5,270.6 860.0,281.0 862.3,269.9 864.0,268.5 865.1,273.1 866.0,274.8 866.0,340.8 160.0,340.8"/>
<polygon fill="#b5e1a2" points="160.0,331.0 163.0,330.2 165.5,327.2 172.5,328.4 180.5,331.9 184.0,331.2 189.0,328.8 198.0,333.5 201.0,333.1 204.0,333.8 206.0,326.8 208.0,326.0 211.0,323.7 215.0,317.8 217.0,316.0 220.4,303.1 223.3,318.2 225.0,319.8 226.0,314.1 228.0,287.6 229.0,279.5 230.4,286.0 232.0,301.1 236.0,321.7 238.0,321.2 240.0,324.3 242.0,324.2 247.3,325.9 255.0,317.1 262.0,316.3 266.0,318.0 270.0,331.7 272.0,333.3 282.7,333.5 286.0,330.1 290.0,331.7 296.7,331.1 300.0,325.7 303.0,309.5 306.0,297.5 311.7,250.4 318.0,303.5 321.0,322.3 322.0,326.0 323.0,327.7 324.0,323.8 326.0,309.4 328.4,299.9 331.0,303.3 333.0,310.7 335.0,316.4 339.0,321.8 340.4,323.0 344.0,316.8 345.0,316.2 348.0,315.7 349.0,315.0 352.0,310.8 356.0,308.6 357.0,307.5 361.0,297.6 363.0,288.8 367.0,308.1 368.0,309.1 371.0,301.3 372.0,297.3 375.0,293.8 377.0,293.2 378.0,297.0 380.0,312.5 384.0,312.5 385.4,314.2 388.7,319.9 393.0,313.1 397.3,290.8 400.6,296.7 403.8,301.0 406.7,299.3 410.0,294.8 411.0,298.1 411.4,297.5 412.5,302.3 413.0,302.2 414.0,303.0 419.0,317.7 421.0,319.7 424.0,310.0 424.4,307.1 426.0,273.3 427.7,247.4 430.3,223.4 431.7,221.8 433.0,237.0 434.2,261.7 435.8,279.1 437.0,279.6 438.0,278.1 441.7,254.9 446.0,233.7 449.2,249.2 457.5,301.1 461.2,328.0 462.0,328.7 463.0,327.9 468.8,243.7 471.2,304.4 472.0,315.4 473.8,323.3 475.0,315.8 477.0,290.0 480.0,268.1 482.5,280.0 485.0,283.1 486.2,277.6 488.8,284.6 491.2,295.0 492.0,294.5 493.0,294.6 495.0,296.7 497.5,296.1 501.2,302.6 505.0,305.2 507.8,310.1 514.6,294.3 518.8,288.7 521.0,280.0 522.0,272.8 523.0,271.9 524.8,271.3 528.4,247.4 531.7,258.0 533.9,273.4 537.5,264.7 538.0,265.2 540.2,271.7 543.0,269.7 546.8,279.8 549.0,292.3 552.3,299.0 555.9,301.6 558.0,306.3 562.5,312.8 565.5,309.4 568.8,315.4 572.5,320.6 580.0,322.9 587.5,324.4 590.0,317.2 591.2,303.7 593.8,266.3 597.0,243.4 602.0,300.0 603.0,300.3 603.8,301.0 605.0,303.7 607.0,311.4 611.2,291.5 613.8,313.6 616.2,307.3 619.4,292.8 625.0,306.3 629.0,306.8 632.0,308.8 634.0,308.3 637.0,311.3 639.0,299.7 643.0,300.3 644.0,300.0 646.0,292.6 648.6,255.8 651.0,276.3 654.0,323.1 660.0,324.9 665.0,323.3 668.0,321.3 673.0,316.3 674.0,316.2 676.0,315.9 680.0,318.5 683.0,319.3 685.0,312.7 686.0,311.9 691.0,304.1 694.0,294.7 696.0,292.2 698.0,276.2 700.0,264.9 701.0,264.7 703.0,260.0 705.0,263.7 707.0,252.8 708.0,242.4 710.6,194.5 711.0,194.2 714.0,227.6 718.0,295.2 721.0,307.0 722.0,307.8 724.0,314.2 728.0,317.8 731.0,313.8 734.0,312.4 736.2,315.1 739.2,303.7 742.2,310.2 744.5,317.9 746.7,321.5 748.5,320.2 751.5,320.5 753.5,315.6 759.5,310.1 764.0,309.4 768.0,301.3 770.7,299.8 773.7,295.3 775.0,295.9 776.7,295.4 780.5,296.5 782.9,298.9 786.7,300.5 790.5,298.5 795.3,298.6 798.2,294.8 800.0,286.8 801.0,286.7 803.0,279.1 804.0,264.1 805.3,253.6 807.5,262.8 809.7,267.6 811.0,260.1 813.0,243.6 814.9,198.3 816.0,187.7 816.7,190.8 817.0,197.6 820.0,280.8 821.3,296.0 823.1,302.7 826.0,305.2 828.0,309.3 831.0,304.6 833.6,282.8 835.0,260.5 836.9,239.6 840.0,287.4 842.5,304.8 843.0,306.0 846.0,285.3 847.2,269.7 848.4,218.9 850.0,182.4 851.0,172.2 852.1,193.1 853.2,231.4 854.0,244.3 856.0,264.7 857.5,273.3 860.0,281.8 862.3,273.1 864.0,272.0 865.1,275.8 866.0,277.2 866.0,340.8 160.0,340.8"/>
<polygon fill="#c8e99e" points="160.0,332.1 163.0,331.2 165.5,328.7 169.0,328.7 172.5,329.5 180.5,333.0 184.0,332.0 189.0,329.5 195.0,333.0 198.0,334.2 201.0,333.9 204.0,334.5 206.0,327.5 211.0,324.4 217.0,318.4 220.4,306.9 223.3,320.4 225.0,322.0 226.0,316.6 228.0,291.9 229.0,284.0 230.4,289.6 232.0,303.7 236.0,323.1 238.0,322.9 240.0,325.6 242.0,325.5 247.3,327.0 250.0,324.6 255.0,318.6 262.0,317.6 266.0,319.1 270.0,332.3 272.0,333.7 282.7,334.0 286.0,330.5 290.0,332.0 296.7,331.5 300.0,327.1 301.0,323.8 303.0,313.2 306.0,301.8 311.7,258.8 318.0,307.7 321.0,324.4 322.0,327.3 323.0,328.6 324.0,325.5 326.0,313.1 328.4,304.4 331.0,307.5 333.0,314.2 335.0,319.2 339.0,323.8 340.4,324.7 344.0,319.4 345.0,318.8 348.0,318.2 349.0,317.6 352.0,313.8 356.0,311.7 357.0,310.7 361.0,301.8 362.0,298.0 363.0,291.6 365.0,301.8 367.0,309.6 368.0,310.6 371.0,304.1 372.0,300.5 375.0,297.2 377.0,296.3 378.0,299.4 380.0,314.6 384.0,314.6 388.7,322.1 393.0,316.3 397.3,295.7 400.6,301.5 403.8,305.6 406.7,304.0 410.0,299.7 411.0,300.9 411.4,297.5 412.5,302.3 413.0,302.2 414.0,303.0 415.0,305.7 418.0,316.1 419.0,318.4 421.0,320.3 422.0,315.9 424.0,310.0 424.4,307.1 427.0,257.2 430.3,226.6 431.0,225.0 431.7,224.4 433.0,239.0 434.2,261.7 435.8,279.1 437.0,280.0 438.0,278.9 441.7,256.5 446.0,235.1 449.2,251.3 457.5,302.4 461.2,328.5 462.0,329.0 463.0,327.9 468.8,245.1 471.2,304.4 472.0,315.7 473.8,323.3 475.0,315.8 477.0,290.0 480.0,271.3 482.5,282.5 485.0,286.3 486.2,281.4 488.8,287.8 491.2,297.0 492.0,296.7 493.0,296.9 495.0,298.9 497.5,298.7 501.2,304.7 505.0,307.4 507.8,311.8 514.6,297.2 518.8,290.8 521.0,282.5 522.0,276.2 523.0,275.4 524.8,274.7 528.4,252.3 531.7,262.4 533.9,276.6 537.5,268.8 538.0,269.3 540.2,275.2 543.0,273.4 546.8,283.8 549.0,295.8 552.3,302.5 555.9,305.2 558.0,309.6 562.5,315.4 565.5,312.5 568.8,317.7 572.5,321.9 580.0,323.9 587.5,324.9 590.0,319.1 591.2,307.4 593.8,272.4 597.0,251.8 602.0,304.0 603.0,304.3 604.0,305.4 606.0,310.3 607.0,314.4 611.2,296.3 613.8,316.7 616.2,310.9 619.4,297.4 625.0,309.9 629.0,310.4 632.0,312.2 634.0,311.7 637.0,314.4 639.0,303.9 643.0,304.3 644.0,304.0 646.0,297.3 648.6,260.3 651.0,278.7 654.0,325.0 660.0,326.2 665.0,324.6 668.0,322.8 673.0,318.7 676.0,318.4 680.0,320.6 683.0,320.9 685.0,315.3 686.0,314.6 691.0,307.4 694.0,298.8 696.0,296.5 698.0,281.2 700.0,270.8 701.0,270.6 703.0,266.4 705.0,269.8 707.0,260.0 708.0,250.7 710.6,207.8 711.0,207.5 714.0,237.4 718.0,299.3 721.0,310.0 722.0,310.8 724.0,316.5 728.0,320.0 731.0,316.5 734.0,315.3 736.2,317.5 739.2,307.3 742.2,313.2 744.5,320.0 746.7,323.1 748.5,322.2 750.0,322.1 751.5,322.8 753.5,318.5 759.5,313.2 764.0,312.3 768.0,305.0 770.7,303.5 773.7,299.4 775.0,299.9 776.7,299.4 780.5,300.3 782.9,302.6 786.7,304.1 790.5,302.4 795.3,302.6 798.2,299.5 800.0,292.5 801.0,294.5 803.0,287.5 804.0,270.8 805.3,262.1 807.5,270.6 809.7,275.7 811.0,270.1 813.0,255.0 814.9,204.6 816.0,192.9 816.7,198.7 820.0,289.1 821.3,302.0 822.0,304.3 823.1,307.4 826.0,308.6 828.0,312.9 831.0,308.2 833.0,293.8 836.9,243.9 840.0,291.1 842.5,304.8 843.0,306.0 846.0,287.3 847.2,274.0 848.4,227.1 850.0,190.5 851.0,181.0 852.1,202.5 853.2,238.4 855.3,263.8 857.5,275.5 860.0,282.5 862.3,275.8 863.0,275.3 864.0,274.9 865.1,278.1 866.0,279.1 866.0,340.8 160.0,340.8"/>
<polygon fill="#ddf19a" points="160.0,332.8 163.0,331.9 165.5,329.6 169.0,329.4 175.0,331.1 180.5,333.7 184.0,332.6 188.0,330.2 189.0,330.0 195.0,333.6 198.0,334.6 201.0,334.5 204.0,335.0 206.0,328.0 211.0,324.8 217.0,320.0 220.4,309.8 223.3,321.9 225.0,323.5 226.0,318.2 228.0,295.4 229.0,287.8 230.4,292.4 232.0,305.5 236.0,324.0 238.0,324.1 240.0,326.4 242.0,326.4 247.3,327.8 250.0,325.8 255.0,319.6 262.0,318.4 266.0,319.8 270.0,332.7 272.0,333.9 282.7,334.3 286.0,330.8 290.0,332.2 296.7,331.7 300.0,328.0 301.0,325.3 305.0,308.1 306.0,305.4 311.7,267.1 318.0,311.0 321.0,325.8 322.0,328.2 323.0,329.2 324.0,326.7 325.0,322.3 326.0,315.9 328.4,308.0 331.0,310.8 333.0,316.9 335.0,321.2 339.0,325.2 340.4,325.8 344.0,321.2 345.0,320.6 348.0,320.0 349.0,319.4 352.0,316.0 356.0,314.0 357.0,313.1 361.0,305.2 362.0,301.0 363.0,293.6 365.0,303.8 367.0,310.6 368.0,311.6 371.0,306.1 372.0,302.9 375.0,299.7 377.0,298.6 378.0,301.0 380.0,316.0 384.0,316.0 388.7,323.5 393.0,318.5 397.3,300.2 400.6,305.7 403.8,309.5 406.7,308.1 411.0,302.8 411.4,297.5 412.5,302.3 413.0,302.2 414.0,303.0 415.0,305.7 418.0,316.8 419.0,318.9 421.0,320.7 422.0,315.9 424.0,310.0 424.4,307.1 427.0,258.2 430.3,228.9 431.0,227.0 431.7,226.2 435.8,279.1 437.0,280.2 438.0,279.4 441.7,257.6 446.0,236.0 449.2,252.7 457.5,303.3 461.2,328.8 462.0,329.2 463.0,327.9 468.8,246.0 471.2,304.4 472.0,316.0 473.8,323.3 475.0,315.8 477.0,290.0 480.0,273.5 482.5,284.3 485.0,288.5 486.2,284.3 488.8,290.2 491.2,298.4 493.0,298.5 495.0,300.4 497.5,300.5 501.2,306.1 505.0,308.9 507.8,312.9 514.6,299.2 518.8,292.2 521.0,284.3 522.0,278.7 524.8,277.3 528.4,256.9 531.7,266.2 533.9,278.9 537.5,272.2 538.0,272.6 540.2,277.9 543.0,276.3 546.8,286.8 549.0,298.4 552.3,305.2 555.9,307.9 558.0,311.9 562.5,317.1 565.5,314.7 568.8,319.3 572.5,322.8 583.8,325.2 587.5,325.3 590.0,320.4 591.2,310.2 593.8,278.5 597.0,260.1 602.0,307.2 603.0,307.4 604.0,308.5 606.0,312.9 607.0,316.6 611.2,300.5 613.8,318.8 616.2,313.6 619.4,301.2 625.0,312.6 629.0,313.1 632.0,314.7 634.0,314.3 637.0,316.7 639.0,307.2 643.0,307.5 644.0,307.1 646.0,301.3 648.6,264.0 651.0,280.4 653.0,316.1 654.0,326.3 660.0,327.0 665.0,325.4 670.0,322.5 673.0,320.3 676.0,320.1 680.0,322.0 683.0,322.0 685.0,317.1 686.0,316.4 691.0,309.9 694.0,302.1 696.0,300.1 698.0,286.1 700.0,276.8 701.0,276.6 703.0,272.9 705.0,275.8 707.0,267.1 708.0,258.9 710.6,221.0 711.0,220.7 714.0,247.2 718.0,302.6 721.0,312.2 722.0,312.9 724.0,318.1 728.0,321.5 731.0,318.4 734.0,317.3 736.2,319.0 739.2,310.1 742.2,315.5 744.5,321.5 746.7,324.2 748.5,323.4 750.0,323.4 751.5,324.3 752.0,324.0 753.5,320.6 759.5,315.4 764.0,314.4 768.0,307.7 770.7,306.4 773.7,302.6 775.0,303.0 776.7,302.5 780.0,303.2 782.0,304.3 782.9,305.4 786.7,306.7 790.5,305.3 795.3,305.4 798.2,302.8 800.0,296.8 801.0,300.5 803.0,294.0 804.0,276.0 805.3,268.7 807.5,276.6 809.7,281.9 811.0,277.9 813.0,263.8 814.9,212.0 816.0,199.8 816.7,207.1 820.0,295.5 821.3,306.4 822.0,308.3 823.1,310.7 826.0,311.0 828.0,315.3 828.9,314.5 831.0,310.8 833.0,297.8 836.9,249.4 840.0,293.7 843.0,306.0 844.0,298.2 846.0,288.6 847.2,277.0 848.4,234.8 850.0,200.2 851.0,191.6 852.1,211.9 853.2,244.3 854.0,255.7 855.3,267.0 857.5,277.0 860.0,283.0 862.3,277.5 863.0,277.2 864.0,276.9 865.1,279.5 866.0,280.4 866.0,340.8 160.0,340.8"/>
<polygon fill="#eaf79e" points="160.0,333.4 163.0,332.4 165.5,330.4 169.0,329.9 176.0,332.1 180.5,334.3 184.0,333.1 188.0,330.5 189.0,330.4 195.0,334.1 198.0,334.9 201.0,334.9 204.0,335.4 206.0,328.4 217.0,321.4 220.4,312.7 223.3,323.1 225.0,324.7 226.0,319.6 229.0,292.0 230.4,295.0 232.0,307.1 236.0,324.8 238.0,325.0 240.0,327.1 242.0,327.2 247.3,328.4 250.0,326.8 255.0,320.4 262.0,319.1 266.0,320.4 270.0,333.0 272.0,334.1 275.0,334.5 282.7,334.6 286.0,331.0 290.0,332.4 296.7,331.9 300.0,328.8 301.0,326.6 305.0,311.2 306.0,309.2 311.7,277.5 318.0,314.5 321.0,326.9 322.0,328.9 323.0,329.8 324.0,327.7 326.0,318.7 328.4,312.0 331.0,314.3 333.0,319.4 335.0,323.0 340.0,326.8 340.4,326.8 344.0,322.7 348.0,321.5 352.0,317.9 357.0,315.2 361.0,308.8 362.0,304.1 363.0,295.3 365.0,305.5 367.0,311.4 368.0,312.4 371.0,307.8 372.0,305.0 375.0,302.0 377.0,300.7 378.0,302.4 380.0,317.2 384.0,317.2 388.7,324.7 393.0,320.6 397.3,305.6 400.6,310.4 403.8,313.8 406.7,312.7 410.0,309.4 411.0,304.5 411.4,297.5 412.5,302.3 413.0,302.2 414.0,303.0 415.0,305.7 418.0,317.4 419.0,319.2 421.0,321.0 422.0,315.9 424.0,310.0 424.4,307.1 427.0,258.9 430.3,231.1 431.0,228.7 431.7,227.8 435.8,279.1 437.0,280.4 438.0,279.9 441.7,258.5 446.0,236.8 449.2,253.8 461.2,329.1 462.0,329.3 463.0,327.9 468.8,246.8 472.0,316.1 473.8,323.3 475.0,315.8 477.0,290.0 480.0,275.6 482.5,285.8 485.0,290.6 486.2,287.2 488.8,292.4 491.2,299.5 493.0,299.8 495.0,301.6 497.5,302.1 501.2,307.2 505.0,310.2 507.8,313.8 518.8,293.4 522.0,281.1 524.8,279.7 528.4,262.3 531.7,270.2 533.9,281.1 537.5,275.6 538.0,276.0 540.2,280.4 543.0,279.2 546.8,289.9 549.0,300.9 552.3,307.7 555.9,310.5 558.0,314.1 562.5,318.6 565.5,316.8 568.8,320.6 572.5,323.6 583.8,325.7 587.5,325.6 590.0,321.5 591.2,312.9 593.8,286.0 597.0,270.5 602.0,310.4 603.0,310.6 604.0,311.6 606.0,315.4 607.0,318.5 611.2,305.3 613.8,320.8 616.2,316.2 619.4,305.4 625.0,315.2 629.0,315.8 632.0,317.1 634.0,316.7 637.0,318.7 639.0,310.7 643.0,310.7 644.0,310.3 646.0,305.8 648.0,272.6 648.6,268.1 651.0,281.8 653.0,318.9 654.0,327.4 660.0,327.7 665.0,326.1 673.0,321.7 676.0,321.5 680.0,323.2 683.0,322.8 685.0,318.7 686.0,318.0 691.0,312.2 694.0,305.6 696.0,303.8 698.0,291.9 700.0,284.1 701.0,283.9 703.0,280.8 705.0,283.3 707.0,276.0 708.0,269.1 710.6,237.3 711.0,237.1 714.0,259.3 718.0,305.9 718.4,307.5 720.0,310.6 721.0,314.1 722.0,314.9 724.0,319.4 728.0,322.7 731.0,320.1 734.0,319.1 736.2,320.4 739.2,312.7 742.2,317.5 744.5,322.7 746.0,324.3 747.0,325.1 748.5,324.5 750.0,324.5 751.5,325.6 752.0,325.5 753.5,322.5 759.5,317.4 764.0,316.2 768.0,310.4 770.7,309.2 773.7,305.8 775.0,306.1 776.7,305.7 780.0,306.2 782.0,307.1 782.9,308.0 786.7,309.2 790.5,307.9 795.3,307.9 798.2,305.8 800.0,300.8 801.0,306.6 803.0,300.4 804.0,281.1 805.3,275.3 807.5,282.5 809.7,288.2 811.0,285.6 813.0,272.6 815.0,220.0 816.0,209.8 816.7,217.9 820.0,301.9 821.3,310.7 823.1,313.8 826.0,313.1 828.0,317.5 828.9,316.9 831.0,313.0 833.6,297.4 836.9,257.3 840.0,296.0 842.0,301.4 843.0,306.0 844.0,298.2 846.0,289.7 847.2,279.7 848.4,243.8 850.0,213.6 851.0,206.2 853.2,250.8 854.0,260.5 855.3,269.9 857.5,278.2 860.0,283.4 862.3,279.0 863.0,278.8 864.0,278.6 865.1,280.8 866.0,281.5 866.0,340.8 160.0,340.8"/>
<polygon fill="#f3faac" points="160.0,334.0 163.0,333.0 165.5,331.2 169.0,330.5 176.0,332.7 180.5,334.9 184.0,333.5 188.0,330.9 189.0,330.8 195.0,334.5 198.0,335.3 204.0,335.8 206.0,328.8 211.0,325.5 215.0,324.0 217.0,322.8 220.4,315.7 223.3,324.4 225.0,326.0 226.0,321.0 229.0,296.5 230.0,296.9 230.4,297.8 232.0,308.7 236.0,325.5 238.0,326.0 240.0,327.8 247.3,329.0 250.0,327.8 255.0,321.3 262.0,319.8 266.0,321.0 270.0,333.4 272.0,334.3 275.0,334.8 283.0,334.8 286.0,331.3 290.0,332.5 296.7,332.2 300.0,329.5 302.0,325.3 305.0,314.5 306.0,313.2 311.7,288.6 318.0,318.2 321.0,328.1 322.0,329.6 323.0,330.3 324.0,328.7 326.0,321.5 328.4,316.1 331.0,318.0 333.0,322.0 335.0,324.9 340.0,327.8 344.0,324.3 348.0,323.0 352.0,319.9 357.0,317.5 361.0,312.5 362.0,307.2 363.0,297.1 365.0,307.2 367.0,312.3 368.0,313.3 371.0,309.6 372.0,307.3 377.0,302.9 378.0,303.8 380.0,318.3 384.0,318.3 388.7,325.9 393.0,322.8 397.3,311.3 400.6,315.5 403.8,318.3 406.7,317.6 410.0,315.0 411.0,306.2 411.4,297.6 412.5,302.3 413.0,302.2 414.0,303.0 415.0,305.7 418.0,318.0 419.0,319.6 421.0,321.4 422.0,315.9 424.0,310.0 424.4,307.1 426.0,273.3 427.0,259.7 430.3,233.3 431.0,230.4 431.7,229.4 435.8,279.1 437.0,280.6 438.0,280.3 446.0,237.5 457.0,301.8 461.2,329.4 462.0,329.5 463.0,327.9 468.8,247.5 472.0,316.3 473.8,323.3 475.0,315.8 477.0,290.0 480.0,277.8 482.5,287.4 485.0,292.8 486.2,290.2 488.8,294.7 491.2,300.6 493.0,301.1 495.0,302.9 497.5,303.7 501.2,308.4 505.0,311.5 507.8,314.7 515.0,302.6 518.0,296.2 522.0,283.5 524.8,282.2 528.4,268.0 531.7,274.4 533.9,283.3 537.5,279.2 540.2,283.1 543.0,282.1 546.8,293.1 549.0,303.5 552.3,310.4 555.9,313.2 558.0,316.4 562.5,320.1 565.5,318.8 568.8,321.9 572.5,324.3 584.0,326.3 587.5,325.8 590.0,322.6 591.2,315.8 593.8,294.1 597.0,281.6 602.0,313.7 604.0,314.8 606.0,317.9 607.0,320.5 609.0,316.4 611.2,310.4 613.8,322.8 616.2,318.8 619.4,309.9 625.0,317.9 629.0,318.5 632.0,319.5 634.0,319.3 637.0,320.8 639.0,314.4 644.0,313.6 645.0,311.4 646.0,310.7 648.0,276.0 648.6,272.4 651.0,283.3 653.0,321.8 654.0,328.4 660.0,328.4 665.0,326.8 673.0,323.1 676.0,323.0 680.0,324.3 683.0,323.7 685.0,320.3 691.0,314.5 694.0,309.2 696.0,307.8 698.0,298.2 700.0,292.0 701.0,291.8 703.0,289.4 705.0,291.4 707.0,285.6 708.0,280.1 710.6,255.0 711.0,254.8 714.0,272.4 718.0,309.5 720.0,313.2 721.0,316.1 722.0,316.8 724.0,320.7 728.0,324.0 731.0,321.8 734.0,320.9 736.2,321.7 739.2,315.5 742.2,319.6 744.5,323.9 746.7,326.0 750.0,325.6 751.5,327.0 752.0,327.0 753.5,324.4 759.5,319.5 764.0,318.1 768.0,313.2 770.7,312.1 773.7,309.2 775.0,309.4 776.7,309.0 780.5,309.4 782.9,310.7 786.7,311.6 790.5,310.6 795.3,310.5 798.2,308.9 800.0,305.0 801.0,312.9 803.0,307.2 804.0,286.4 805.3,282.1 809.7,294.7 811.0,293.6 813.0,281.7 815.0,231.0 816.0,220.8 816.7,229.7 820.0,308.5 821.3,315.2 822.0,316.0 823.1,316.9 826.0,315.1 828.0,319.6 828.9,319.3 831.0,315.3 833.6,301.8 836.9,266.0 840.0,298.3 841.0,300.5 842.0,301.6 843.0,306.0 844.0,298.2 846.0,290.8 847.2,282.5 848.4,253.4 850.0,228.4 851.0,222.2 853.2,257.7 854.0,265.5 855.3,272.9 857.5,279.4 860.0,283.8 862.3,280.6 863.0,280.4 864.0,280.3 865.1,282.0 866.0,282.5 866.0,340.8 160.0,340.8"/>
<polygon fill="#fbfdb8" points="160.0,334.5 163.0,333.4 165.5,331.8 169.0,331.0 176.0,333.1 180.5,335.4 184.0,333.9 188.0,331.2 189.0,331.1 195.0,334.9 198.0,335.6 204.0,336.1 206.0,329.1 211.0,325.8 215.0,325.0 217.0,323.9 220.4,318.3 223.3,325.4 225.0,327.0 226.0,322.2 229.0,300.5 230.0,299.7 230.4,300.2 233.0,314.5 236.0,326.2 238.0,326.7 240.0,328.3 247.3,329.5 250.0,328.6 255.0,322.0 262.0,320.3 266.0,321.5 270.0,333.7 272.0,334.5 275.0,335.0 283.0,335.0 286.0,331.4 290.0,332.6 296.0,332.4 300.0,330.2 302.0,326.9 305.0,317.4 306.0,316.8 307.0,314.2 311.7,299.2 318.0,321.5 321.0,329.0 322.0,330.2 323.0,330.7 324.0,329.5 326.0,324.0 328.4,319.9 331.0,321.2 333.0,324.2 335.0,326.4 340.0,328.5 344.0,325.6 349.0,323.8 352.0,321.6 357.0,319.4 358.0,318.6 361.0,315.9 362.0,310.0 363.0,298.6 365.0,308.7 367.0,313.0 368.0,314.0 371.0,311.1 372.0,309.1 376.0,306.0 377.0,304.7 378.0,305.0 380.0,319.2 384.0,319.2 388.7,326.9 393.0,324.6 397.3,316.7 400.6,320.2 403.8,322.5 406.7,322.2 410.0,320.3 411.4,297.6 412.5,302.3 413.0,302.2 414.0,303.0 415.0,305.7 418.0,318.5 421.0,321.7 422.0,315.9 424.0,310.0 424.4,307.1 426.0,273.3 427.0,260.3 430.3,235.2 431.0,231.9 431.7,230.8 435.8,279.1 437.0,280.8 438.0,280.6 446.0,238.2 457.0,302.4 461.2,329.6 462.0,329.6 463.0,327.9 468.8,248.2 472.0,316.5 473.8,323.3 475.0,315.8 477.0,290.0 480.0,279.6 482.5,288.7 485.0,294.6 486.2,292.9 488.8,296.7 491.2,301.5 493.0,302.2 495.0,303.9 497.5,305.0 501.2,309.4 507.8,315.5 515.0,304.2 518.8,295.5 522.0,285.7 524.8,284.4 528.4,273.4 531.7,278.3 533.9,285.1 537.5,282.4 540.2,285.4 543.0,284.7 546.8,296.0 549.0,305.8 551.0,310.8 552.3,312.7 555.9,315.6 558.0,318.3 562.5,321.4 565.5,320.6 568.8,323.0 572.5,324.9 580.0,326.2 583.8,326.7 587.5,326.1 590.0,323.4 591.2,318.2 593.8,301.8 597.0,292.2 602.0,316.7 604.0,317.6 606.0,320.2 607.0,322.2 609.0,319.4 611.2,315.1 613.8,324.5 616.2,321.1 619.4,314.0 625.0,320.3 632.0,321.7 634.0,321.5 637.0,322.6 639.0,317.7 643.0,317.0 644.0,316.6 645.0,314.8 646.0,315.1 648.0,279.0 648.6,276.3 651.0,284.5 653.0,324.4 654.0,329.3 660.0,329.0 673.0,324.2 676.0,324.2 680.0,325.2 683.0,324.4 685.0,321.6 691.0,316.6 694.0,312.4 696.0,311.3 698.0,304.2 700.0,299.5 701.0,299.4 703.0,297.5 705.0,299.0 707.0,294.7 708.0,290.6 710.6,271.7 711.0,271.6 714.0,284.8 718.0,312.6 720.0,315.4 721.0,317.8 722.0,318.5 724.0,321.8 728.0,325.0 731.0,323.2 733.0,322.7 734.0,322.4 736.2,322.8 739.2,317.9 742.2,321.3 744.5,324.8 746.7,326.7 750.0,326.4 752.0,328.2 753.5,326.0 759.5,321.2 764.0,319.7 768.0,315.7 770.7,314.6 773.7,312.3 780.5,312.1 782.9,313.0 786.7,313.7 790.5,312.9 795.3,312.6 798.2,311.5 800.0,308.7 801.0,318.4 803.0,313.2 804.0,291.0 805.3,288.2 806.0,289.4 809.7,300.5 811.0,300.7 813.0,289.8 815.0,241.7 816.0,231.7 816.7,240.9 820.0,314.4 821.3,319.0 823.1,319.5 826.0,316.9 828.0,321.4 828.9,321.2 831.0,317.1 833.6,305.6 836.9,274.6 840.0,300.2 841.0,301.4 842.0,301.7 843.0,306.0 844.0,298.2 846.0,291.7 847.2,284.9 848.4,262.4 850.0,242.8 851.0,237.9 853.2,264.0 854.0,269.9 855.3,275.5 857.5,280.4 860.0,284.1 862.3,281.8 864.0,281.7 865.1,283.0 866.0,283.4 866.0,340.8 160.0,340.8"/>
<polygon fill="#fffab6" points="160.0,335.0 165.5,332.5 169.0,331.4 176.0,333.6 180.5,335.8 184.0,334.3 188.0,331.5 189.0,331.4 195.0,335.3 204.0,336.4 206.0,329.4 211.0,326.1 215.0,326.0 217.0,325.0 220.4,320.9 223.3,326.4 225.0,328.0 229.0,304.5 230.0,302.6 230.4,302.6 233.0,315.7 236.0,326.8 238.0,327.5 240.0,328.9 247.3,330.0 250.0,329.4 255.0,322.6 262.0,320.9 266.0,322.0 270.0,333.9 275.0,335.2 283.0,335.2 286.0,331.6 290.0,332.8 296.0,332.6 300.0,330.8 301.0,329.9 303.0,326.9 305.0,320.2 306.0,320.4 308.0,317.9 311.7,309.8 318.0,324.8 320.0,328.4 322.0,330.8 323.0,331.1 324.0,330.2 326.0,326.5 328.4,323.7 331.0,324.5 335.0,327.9 339.0,329.2 340.4,329.2 344.0,326.9 349.0,325.1 352.0,323.3 357.0,321.3 361.0,319.2 362.0,312.8 363.0,300.0 365.0,310.1 367.0,313.6 368.0,314.6 370.0,313.5 372.0,311.0 376.0,308.0 377.0,306.5 378.0,306.1 380.0,320.2 384.0,320.2 389.0,327.9 393.0,326.4 397.0,322.1 400.6,324.9 403.8,326.7 406.7,326.7 410.0,325.5 411.4,297.6 412.5,302.3 413.0,302.2 414.0,303.0 415.0,305.7 418.0,319.0 421.0,321.9 422.0,315.9 424.0,310.0 424.4,307.1 426.0,273.3 427.0,261.0 430.3,237.0 431.0,233.3 431.7,232.1 435.8,279.1 437.0,281.0 438.0,281.0 446.0,238.8 461.2,329.8 462.0,329.7 463.0,327.9 468.8,248.8 472.0,316.6 473.8,323.3 475.0,315.8 477.0,290.0 480.0,281.4 482.5,289.9 485.0,296.4 486.2,295.5 491.2,302.4 497.5,306.3 507.0,315.8 507.8,316.2 512.0,309.6 515.0,305.8 522.0,287.8 524.8,286.6 528.4,278.7 531.7,282.2 533.9,287.0 537.5,285.6 540.2,287.7 543.0,287.3 544.0,289.4 546.8,298.8 550.0,311.1 551.0,313.3 552.3,315.0 555.9,317.9 558.0,320.3 562.0,322.4 562.5,322.6 565.5,322.3 568.8,324.1 572.5,325.5 583.8,327.1 587.5,326.3 590.0,324.3 591.2,320.7 593.8,309.5 597.0,302.8 602.0,319.6 603.8,320.3 605.0,321.3 607.0,323.9 611.2,319.8 613.8,326.2 616.2,323.4 619.4,318.0 625.0,322.6 632.0,323.8 634.0,323.6 637.0,324.4 639.0,321.0 644.0,319.5 645.0,318.2 646.0,319.5 647.0,306.1 648.0,282.0 648.6,280.2 651.0,285.6 653.0,326.9 654.0,330.1 660.0,329.5 673.0,325.3 676.0,325.4 680.0,326.2 683.0,325.1 685.0,322.9 691.0,318.6 694.0,315.6 696.0,314.9 698.0,310.1 700.0,307.0 701.0,306.9 703.0,305.7 705.0,306.7 707.0,303.8 708.0,301.1 710.6,288.5 711.0,288.4 714.0,297.2 718.0,315.7 720.0,317.6 721.0,319.4 722.0,320.2 724.0,322.8 728.0,326.0 731.0,324.7 734.0,324.0 736.2,323.9 739.2,320.3 745.0,326.2 747.0,327.5 750.0,327.3 752.0,329.5 753.5,327.7 760.0,322.6 764.0,321.3 768.0,318.1 770.7,317.2 773.7,315.3 780.5,314.8 786.0,315.7 788.0,315.7 798.2,314.1 800.0,312.3 801.0,323.9 803.0,319.1 804.0,295.7 805.3,294.2 806.0,295.2 809.7,306.2 811.0,307.8 813.0,297.9 815.0,252.5 816.0,242.6 820.0,320.3 821.3,322.8 823.1,322.1 826.0,318.6 828.0,323.2 828.9,323.2 831.0,319.0 833.6,309.4 836.9,283.2 840.0,302.2 841.0,302.3 842.0,301.9 843.0,306.0 844.0,298.2 846.0,292.6 847.2,287.3 848.4,271.4 850.0,257.2 851.0,253.6 852.1,260.0 853.2,270.4 854.0,274.3 855.3,278.0 860.0,284.4 862.3,283.0 864.0,283.1 866.0,284.3 866.0,340.8 160.0,340.8"/>
<polygon fill="#fff0a6" points="160.0,335.5 169.0,331.9 176.0,334.0 180.5,336.3 184.0,334.6 188.0,331.8 189.0,331.7 195.0,335.6 204.0,336.7 206.0,329.7 211.0,326.4 215.0,327.0 217.0,326.2 220.4,323.5 223.3,327.4 225.0,329.0 229.0,308.6 230.4,305.0 233.0,316.8 236.0,327.4 240.0,329.4 246.0,330.5 250.0,330.2 255.0,323.3 262.0,321.4 266.0,322.5 270.0,334.2 275.0,335.5 283.0,335.5 286.0,331.8 290.0,332.9 296.0,332.8 301.0,331.0 303.0,329.5 305.0,323.1 306.0,324.0 308.0,324.5 311.7,320.4 318.0,328.0 320.0,330.0 322.0,331.3 323.0,331.5 324.0,331.0 326.0,329.0 328.4,327.4 331.0,327.7 335.0,329.5 340.0,330.1 356.0,323.4 361.0,322.6 362.0,315.6 363.0,301.5 365.0,311.6 368.0,315.3 371.0,314.0 376.0,310.0 378.0,307.2 380.0,321.1 384.0,321.1 388.7,328.9 397.0,327.4 399.0,328.8 403.8,330.9 406.7,331.3 410.0,330.8 411.4,297.6 412.5,302.3 413.0,302.2 414.0,303.0 415.0,305.7 418.0,319.5 419.0,320.5 421.0,322.2 422.0,315.9 424.0,310.0 426.0,273.3 427.0,261.6 430.3,238.9 431.0,234.8 431.7,233.4 435.8,279.1 437.0,281.1 438.0,281.3 446.0,239.4 461.2,330.0 462.0,329.9 463.0,327.9 468.8,249.4 472.0,316.7 473.8,323.3 475.0,315.8 477.0,290.0 480.0,283.2 485.0,298.2 486.2,298.2 491.2,303.3 497.5,307.7 507.0,316.7 507.8,316.9 512.0,310.8 515.0,307.4 521.0,291.2 522.0,289.9 524.8,288.7 528.4,284.1 530.0,284.7 531.7,286.0 533.9,288.9 537.5,288.8 540.2,290.0 543.0,289.9 544.0,291.9 549.0,310.3 551.0,315.9 558.0,322.2 562.5,323.9 565.5,324.1 572.5,326.1 584.0,327.5 587.5,326.6 590.0,325.1 591.2,323.2 593.8,317.2 597.0,313.4 602.0,322.6 605.0,323.9 607.0,325.6 611.2,324.5 613.0,327.5 613.8,327.9 616.2,325.8 619.4,322.1 625.0,325.0 632.0,325.9 637.0,326.2 639.0,324.3 644.0,322.5 645.0,321.6 646.0,323.9 647.0,311.1 648.0,285.0 648.6,284.1 651.0,286.8 653.0,329.5 654.0,331.0 659.0,330.4 668.0,327.4 673.0,326.5 680.0,327.1 683.0,325.8 693.0,319.2 696.0,318.4 698.0,316.1 700.0,314.5 703.0,313.8 705.0,314.3 707.0,312.9 708.0,311.5 710.6,305.2 711.0,305.2 714.0,309.6 718.0,318.9 720.0,319.8 724.0,323.9 728.0,327.0 736.2,325.0 739.2,322.7 746.7,328.1 750.0,328.1 752.0,330.7 760.0,324.3 764.0,322.9 768.0,320.6 773.7,318.3 780.5,317.5 788.0,317.8 798.2,316.7 800.0,315.9 801.0,329.5 803.0,325.1 804.0,300.3 805.3,300.3 806.0,301.1 811.0,314.9 813.0,305.9 815.0,263.2 816.0,253.5 820.0,326.1 821.3,326.6 822.0,326.1 826.0,320.3 828.0,325.0 828.9,325.2 830.8,321.3 833.6,313.2 836.9,291.8 840.0,304.1 842.0,302.0 843.0,306.0 844.0,298.2 847.2,289.6 850.0,271.6 851.0,269.3 852.1,271.9 853.2,276.7 855.3,280.5 860.0,284.7 862.3,284.3 866.0,285.1 866.0,340.8 160.0,340.8"/>
<polygon fill="#fee593" points="160.0,336.0 169.0,332.3 176.0,334.5 180.5,336.8 184.0,335.0 188.0,332.1 189.0,332.0 195.0,336.0 204.0,337.0 206.0,330.0 211.0,326.7 215.0,328.0 220.4,326.1 225.0,330.0 230.4,307.4 233.0,318.0 236.0,328.0 240.0,330.0 245.0,330.9 250.0,331.0 255.0,324.0 262.0,322.0 266.0,323.0 270.0,334.5 275.0,335.7 283.0,335.7 286.0,332.0 290.0,333.0 296.0,333.0 300.0,332.0 303.0,332.0 305.0,326.0 308.0,331.0 316.0,331.0 323.0,332.0 330.0,331.0 340.0,330.9 356.0,325.2 361.0,325.9 362.0,318.3 363.0,303.0 365.0,313.0 368.0,316.0 371.0,315.5 376.0,312.0 378.0,308.4 380.0,322.0 384.0,322.0 388.7,329.8 393.0,330.0 399.0,333.9 407.0,335.9 410.0,336.0 411.4,297.6 412.5,302.3 413.0,302.2 414.0,303.0 415.0,305.7 418.0,320.0 421.0,322.5 422.0,315.9 424.0,310.0 426.0,273.3 427.0,262.2 431.0,236.2 431.7,234.8 434.0,256.8 435.8,279.1 437.0,281.3 438.0,281.7 446.0,240.0 461.2,330.2 462.0,330.0 463.0,327.9 468.8,250.0 472.0,316.9 473.8,323.3 475.0,315.8 477.0,290.0 480.0,285.0 485.0,300.0 493.0,305.4 500.0,311.0 507.0,317.5 507.8,317.7 512.0,312.0 515.0,309.0 521.0,292.4 529.0,289.2 530.0,289.2 537.0,292.0 543.0,292.5 544.0,294.3 550.0,316.2 551.0,318.4 558.0,324.1 566.0,325.9 583.8,328.0 597.0,324.0 606.0,326.8 613.0,330.0 620.0,326.1 628.0,328.0 638.0,328.0 645.0,325.0 646.0,328.3 647.0,316.0 648.0,288.0 651.0,288.0 653.0,332.0 659.0,331.0 668.0,328.0 673.0,327.6 680.0,328.0 693.0,322.0 720.0,322.0 728.0,328.0 734.0,327.0 739.0,325.0 747.0,329.0 750.0,329.0 752.0,332.0 760.0,326.0 768.0,323.0 775.0,321.0 782.0,320.0 789.0,319.9 795.0,319.0 800.0,319.5 801.0,335.0 803.0,331.0 804.0,305.0 806.0,307.0 808.0,312.0 811.0,322.0 813.0,314.0 815.0,274.0 816.0,264.4 820.0,332.0 822.0,329.4 826.0,322.0 828.0,326.8 828.9,327.2 833.6,317.0 836.9,300.4 840.0,306.0 842.0,302.1 843.0,306.0 844.0,298.2 850.0,286.0 852.1,283.9 853.0,283.0 857.0,283.0 860.0,285.0 866.0,286.0 866.0,340.8 160.0,340.8"/>
<polygon fill="#fed884" points="160.0,337.1 169.0,334.6 176.0,336.1 180.5,337.6 183.0,336.7 188.0,332.2 189.0,332.2 194.0,336.6 195.0,337.1 204.0,337.7 206.0,333.1 211.0,330.9 215.0,331.7 220.4,330.4 225.0,333.1 230.4,318.0 233.0,325.1 236.0,331.7 240.0,333.1 245.0,333.7 250.0,333.7 255.0,329.1 260.0,328.1 263.0,325.8 266.0,327.3 270.0,336.1 275.0,336.9 283.0,336.9 286.0,334.4 290.0,335.1 296.0,335.1 302.0,334.4 303.0,333.7 305.0,328.3 308.0,333.7 316.0,333.8 323.0,334.4 330.0,333.7 340.0,333.7 356.0,329.9 361.0,330.3 363.0,309.7 365.0,318.3 367.0,321.0 368.0,321.7 371.0,321.3 374.0,319.3 376.0,316.4 378.0,312.1 380.0,323.7 384.0,325.1 388.7,331.0 393.0,332.0 400.0,335.8 407.0,337.0 410.0,337.1 411.4,299.1 412.5,303.2 414.0,304.9 415.0,307.8 418.0,321.3 421.0,325.0 422.0,319.3 424.4,310.5 426.0,286.7 427.0,278.6 431.0,258.8 431.7,257.6 435.8,289.0 437.0,290.7 438.0,290.8 446.0,259.3 461.2,332.4 462.0,332.3 463.0,329.6 468.8,270.0 472.0,323.9 473.8,328.3 475.0,323.4 477.0,306.3 480.0,303.1 485.0,313.1 495.0,317.7 497.0,315.7 499.0,319.9 507.0,324.8 507.8,324.8 512.0,321.1 515.0,319.1 521.0,308.0 529.0,305.9 536.0,307.5 537.5,304.1 539.0,307.8 543.0,308.0 544.0,309.3 550.0,323.9 551.0,325.4 558.0,329.1 566.0,330.4 583.8,331.7 597.0,329.1 606.0,331.0 613.0,333.1 620.0,330.5 628.0,331.7 638.0,331.7 645.0,329.7 646.0,332.0 647.0,322.7 648.0,301.9 648.6,300.7 651.0,305.1 653.0,334.4 659.0,333.7 668.0,331.7 673.0,331.5 680.0,331.7 693.0,327.7 720.0,327.7 728.0,331.7 736.0,330.5 739.2,327.4 742.0,330.7 747.0,332.4 750.0,332.4 752.0,334.4 760.0,330.4 768.0,327.2 775.0,325.0 795.0,324.4 800.0,325.4 801.0,336.0 803.0,333.7 804.0,305.3 806.0,307.3 808.0,312.3 811.0,322.3 813.0,314.3 815.0,274.3 816.0,264.8 818.0,294.3 820.0,333.8 821.0,333.6 822.0,332.7 826.0,327.7 828.0,330.9 828.9,331.2 833.6,324.4 836.0,315.6 836.9,313.7 840.0,318.2 841.0,317.3 842.0,314.9 842.5,315.9 843.0,316.1 844.0,310.2 847.2,302.6 850.0,301.9 852.1,302.9 857.5,300.0 860.0,300.8 866.0,301.5 866.0,340.8 160.0,340.8"/>
<polygon fill="#fdc776" points="160.0,337.9 169.0,336.5 180.5,338.2 183.0,337.7 188.0,332.4 189.0,332.4 194.0,337.7 195.0,337.9 204.0,338.3 206.0,335.6 211.0,334.3 215.0,334.8 220.4,334.0 225.0,335.6 230.4,326.6 236.0,334.8 240.0,335.6 250.0,336.0 255.0,333.2 260.0,332.6 263.0,328.7 266.0,330.9 268.0,335.1 270.0,337.3 275.0,337.8 283.0,337.8 286.0,336.3 290.0,336.7 302.0,336.3 303.0,335.1 305.0,330.2 308.0,336.0 323.0,336.3 339.0,336.0 356.0,333.7 361.0,333.9 363.0,315.1 365.0,322.7 367.0,325.9 368.0,326.3 370.0,326.2 374.0,324.0 378.0,315.1 380.0,325.0 383.0,327.4 384.0,327.7 388.7,332.0 393.0,333.6 400.0,337.2 410.0,337.9 411.0,319.4 411.4,300.4 412.5,303.9 414.0,306.5 415.0,309.5 418.0,322.4 421.0,327.0 424.4,313.1 426.0,297.5 427.0,291.8 431.0,277.1 431.7,276.2 435.8,297.0 437.0,298.4 438.0,298.3 446.0,275.0 457.0,316.5 461.2,334.1 462.0,334.1 463.0,330.9 468.8,286.2 472.0,329.6 473.8,332.4 475.0,329.6 477.0,319.6 480.0,317.7 485.0,323.7 495.0,326.5 497.0,321.5 499.0,327.7 507.8,330.7 515.0,327.2 521.0,320.7 529.0,319.4 536.0,320.4 537.5,314.0 539.0,320.6 543.0,320.7 544.0,321.4 550.0,330.1 551.0,331.0 558.0,333.2 583.8,334.8 597.0,333.2 613.0,335.6 620.0,334.0 628.0,334.8 638.0,334.8 645.0,333.6 646.0,334.9 647.0,328.1 648.0,313.2 648.6,311.0 651.0,318.9 653.0,336.3 668.0,334.8 680.0,334.8 693.0,332.4 720.0,332.4 728.0,334.8 734.0,334.4 736.0,334.1 739.2,329.2 742.0,334.2 747.0,335.2 750.0,335.2 752.0,336.3 760.0,334.0 775.0,328.2 782.0,328.5 790.0,328.1 795.0,328.7 800.0,330.2 801.0,336.8 803.0,336.0 804.0,305.6 806.0,307.6 808.0,312.6 811.0,322.6 813.0,314.6 815.0,274.6 816.0,265.0 818.0,294.6 820.0,335.3 821.3,335.7 826.0,332.4 828.0,334.3 828.9,334.4 833.6,330.4 836.0,325.2 836.9,324.9 840.0,329.9 841.0,330.5 842.0,327.7 843.0,326.1 844.0,322.1 847.2,313.2 852.1,321.9 853.0,322.1 856.0,316.1 858.0,313.2 860.0,313.7 866.0,314.1 866.0,340.8 160.0,340.8"/>
<polygon fill="#fdb768" points="160.0,338.5 169.0,337.8 180.5,338.7 183.0,338.4 188.0,332.5 189.0,332.5 194.0,338.4 195.0,338.5 204.0,338.7 206.0,337.3 211.0,336.6 215.0,336.9 220.4,336.5 225.0,337.3 230.4,332.6 236.0,336.9 250.0,337.5 255.0,336.0 260.0,335.7 263.0,330.8 266.0,333.3 268.0,337.0 270.0,338.2 283.0,338.5 286.0,337.7 302.0,337.7 305.0,331.5 308.0,337.5 339.0,337.5 356.0,336.3 361.0,336.4 362.0,325.2 363.0,318.8 365.0,325.7 367.0,329.2 370.0,329.4 374.0,327.3 378.0,317.2 380.0,326.0 383.0,329.1 384.0,329.4 389.0,332.8 400.0,338.1 410.0,338.5 411.0,321.7 411.4,301.3 415.0,310.7 418.0,323.2 421.0,328.4 424.4,315.0 426.0,305.0 427.0,301.0 431.0,289.8 431.7,289.0 435.8,302.5 437.0,303.8 438.0,303.4 446.0,285.9 457.0,320.3 461.2,335.4 462.0,335.4 463.0,331.8 468.8,297.5 472.0,333.6 473.8,335.2 475.0,333.8 477.0,328.8 480.0,327.9 485.0,331.0 495.0,332.5 497.0,325.5 499.0,333.2 507.0,334.7 515.0,332.9 521.0,329.5 529.0,328.8 536.0,329.3 537.5,320.8 539.0,329.4 543.0,329.5 551.0,334.9 557.0,335.9 583.8,336.9 597.0,336.0 613.0,337.3 620.0,336.5 638.0,336.9 645.0,336.2 646.0,336.9 647.0,331.9 648.0,321.1 648.6,318.1 653.0,337.7 668.0,336.9 680.0,336.9 693.0,335.6 720.0,335.6 728.0,336.9 736.0,336.5 739.2,330.5 742.0,336.6 750.0,337.1 752.0,337.7 760.0,336.4 775.0,330.5 782.0,331.1 790.0,330.6 795.0,331.7 798.0,332.5 800.0,333.6 801.0,337.3 803.0,337.5 804.0,305.8 806.0,307.8 808.0,312.8 811.0,322.8 813.0,314.8 815.0,274.8 816.0,265.2 818.0,294.8 820.0,336.4 821.0,337.5 826.0,335.6 828.9,336.7 833.6,334.6 836.0,331.8 836.9,331.7 838.0,332.8 840.0,333.9 841.0,334.0 847.2,316.1 852.1,327.0 853.0,327.3 856.0,323.9 858.0,322.3 866.0,322.8 866.0,340.8 160.0,340.8"/>
<polygon fill="#fba35c" points="160.0,338.9 169.0,338.6 183.0,338.9 188.0,332.5 189.0,332.5 194.0,338.9 204.0,339.0 206.0,338.4 211.0,338.2 225.0,338.4 230.4,336.6 236.0,338.3 250.0,338.5 260.0,337.8 263.0,332.1 266.0,334.9 268.0,338.3 270.0,338.8 302.0,338.6 305.0,332.4 308.0,338.5 361.0,338.1 362.0,326.3 363.0,321.3 364.0,325.4 367.0,331.5 370.0,331.6 374.0,329.5 378.0,318.6 380.0,326.6 383.0,330.2 395.2,336.7 400.0,338.8 410.0,338.9 411.0,323.3 411.4,301.9 415.0,311.5 418.0,323.7 421.0,329.4 426.0,310.0 431.0,298.3 431.7,297.6 435.0,304.9 437.0,307.3 438.0,306.9 446.0,293.2 457.0,322.8 461.2,336.2 462.0,336.2 463.0,332.5 468.8,305.0 472.0,336.2 473.8,337.1 475.0,336.7 477.0,334.9 480.0,334.7 485.0,335.9 495.0,336.5 497.0,328.2 499.0,336.8 507.8,337.4 515.0,336.7 521.0,335.3 536.0,335.2 537.5,325.3 539.0,335.3 544.0,335.5 551.0,337.5 558.0,337.9 583.8,338.3 597.0,337.9 613.0,338.4 620.0,338.1 645.0,338.0 646.0,338.3 647.0,334.4 648.6,322.8 651.0,334.9 653.0,338.6 693.0,337.8 736.0,338.1 739.2,331.4 742.0,338.1 752.0,338.6 760.0,338.1 775.0,332.0 782.0,332.8 790.0,332.4 798.0,334.6 800.0,335.8 801.0,337.7 803.0,338.5 804.0,305.9 806.0,307.9 808.0,312.9 811.0,322.9 813.0,314.9 815.0,274.9 816.0,265.4 818.0,294.9 820.0,337.0 821.0,338.5 826.0,337.8 828.9,338.2 833.6,337.3 836.0,336.3 838.0,336.5 841.0,335.7 847.2,317.5 852.1,329.6 853.0,329.9 858.0,328.4 866.0,328.6 866.0,340.8 160.0,340.8"/>
<polygon fill="#f98e52" points="160.0,339.2 183.0,339.2 188.0,332.6 189.0,332.6 194.0,339.2 260.0,339.2 263.0,333.0 266.0,336.0 268.0,339.2 302.0,339.2 305.0,333.0 308.0,339.2 361.0,339.2 362.0,327.1 363.0,323.0 364.0,327.0 367.0,333.0 370.0,333.0 374.0,331.0 378.0,319.6 380.0,327.0 383.0,331.0 388.0,333.0 395.2,337.2 400.0,339.2 410.0,339.2 411.0,324.3 411.4,302.2 415.0,312.0 418.0,324.0 421.0,330.0 424.0,318.0 427.0,311.3 431.0,303.9 431.7,303.3 435.0,308.0 437.0,309.7 438.0,309.2 446.0,298.0 457.0,324.5 461.2,336.7 462.0,336.8 468.8,310.0 472.0,338.0 478.0,339.2 495.0,339.2 497.0,330.0 499.0,339.2 536.0,339.2 537.5,328.3 539.0,339.2 646.0,339.2 647.0,336.1 648.6,326.0 651.0,339.2 736.0,339.2 739.2,331.9 742.0,339.2 760.0,339.2 775.0,333.0 782.0,334.0 790.0,333.5 798.0,336.0 803.0,339.2 804.0,306.0 806.0,308.0 808.0,313.0 811.0,323.0 813.0,315.0 815.0,275.0 816.0,265.4 818.0,295.0 820.0,337.5 821.0,339.2 838.0,339.2 841.0,337.5 847.2,318.9 852.1,332.1 853.0,332.5 866.0,332.5 866.0,340.8 160.0,340.8"/>
<polygon fill="#f57748" points="160.0,340.2 183.0,340.2 188.0,338.2 189.0,338.2 194.0,340.2 260.0,340.2 263.0,338.3 268.0,340.2 302.0,340.2 305.0,338.3 308.0,340.2 361.0,340.2 362.0,336.5 363.0,335.3 364.0,336.5 367.0,338.3 370.0,338.3 374.0,337.7 378.0,334.3 380.0,336.5 383.0,337.7 400.0,340.2 410.0,340.2 411.0,335.7 411.4,329.1 415.0,332.0 418.0,335.6 421.0,337.4 424.0,333.8 431.0,329.6 431.7,329.4 437.0,331.3 446.0,327.8 457.0,335.8 461.2,339.4 462.0,339.5 468.8,331.4 472.0,339.8 478.0,340.2 495.0,340.2 497.0,337.4 499.0,340.2 536.0,340.2 537.5,336.9 539.0,340.2 646.0,340.2 647.0,339.2 648.6,336.2 651.0,340.2 736.0,340.2 739.2,338.0 742.0,340.2 760.0,340.2 775.0,338.3 790.0,338.5 798.0,339.2 803.0,340.2 804.0,306.7 806.0,308.7 808.0,313.7 811.0,323.7 813.0,315.7 815.0,275.7 816.0,266.1 818.0,295.7 820.0,338.3 821.0,340.2 836.0,340.2 838.0,339.7 841.0,337.6 847.2,319.8 852.1,332.4 853.0,332.8 866.0,332.8 866.0,340.8 160.0,340.8"/>
<polygon fill="#ee6445" points="160.0,340.5 183.0,340.5 188.0,340.0 194.0,340.5 260.0,340.5 263.0,340.0 268.0,340.5 302.0,340.5 305.0,340.0 308.0,340.5 361.0,340.5 362.0,339.6 363.0,339.3 367.0,340.0 370.0,340.0 374.0,339.9 378.0,339.0 383.0,339.9 410.0,340.5 411.0,339.4 411.4,337.7 421.0,339.8 424.0,338.9 431.0,337.8 437.0,338.3 446.0,337.4 461.2,340.3 468.8,338.3 472.0,340.4 478.0,340.5 495.0,340.5 497.0,339.8 499.0,340.5 536.0,340.5 537.5,339.7 539.0,340.5 646.0,340.5 648.6,339.5 651.0,340.5 736.0,340.5 739.2,339.9 742.0,340.5 760.0,340.5 775.0,340.0 803.0,340.5 804.0,306.9 806.0,308.9 808.0,313.9 811.0,323.9 813.0,315.9 815.0,275.9 816.0,266.4 818.0,295.9 820.0,338.6 821.0,340.5 836.0,340.5 838.0,339.8 840.2,338.4 841.0,337.7 847.2,320.6 852.1,332.8 853.0,333.1 866.0,333.1 866.0,340.8 160.0,340.8"/>
<polygon fill="#e45549" points="160.0,340.6 361.0,340.6 363.0,340.2 370.0,340.4 378.0,340.1 410.0,340.6 411.4,339.6 421.0,340.3 431.0,339.7 446.0,339.5 461.2,340.5 468.8,339.8 472.0,340.5 478.0,340.6 536.0,340.6 537.5,340.3 539.0,340.6 646.0,340.6 648.6,340.2 651.0,340.6 803.0,340.6 804.0,307.0 806.0,309.0 808.0,314.0 811.0,324.0 813.0,316.0 815.0,276.0 816.0,266.4 818.0,296.0 820.0,338.7 821.0,340.6 836.0,340.6 841.0,340.2 847.2,337.7 852.1,339.5 866.0,339.5 866.0,340.8 160.0,340.8"/>
<polygon fill="#d9444d" points="160.0,340.6 803.0,340.6 804.0,307.0 806.0,309.0 808.0,314.0 811.0,324.0 813.0,316.0 815.0,276.0 816.0,266.4 818.0,296.0 820.0,338.7 821.0,340.6 866.0,340.6 866.0,340.8 160.0,340.8"/>
<polygon fill="#cb334d" points="160.0,340.7 803.0,340.7 804.0,327.6 806.0,328.4 808.0,330.3 811.0,334.2 813.0,331.1 815.0,315.5 816.0,311.8 818.0,323.3 820.0,340.0 821.0,340.7 866.0,340.7 866.0,340.8 160.0,340.8"/>
<polygon fill="#b81e48" points="160.0,340.8 803.0,340.8 804.0,335.9 806.0,336.1 811.0,338.3 813.0,337.2 815.0,331.3 816.0,329.9 818.0,334.2 820.0,340.5 821.0,340.8 866.0,340.8 866.0,340.8 160.0,340.8"/>
<polygon fill="#a70b44" points="160.0,340.8 803.0,340.8 804.0,338.7 811.0,339.8 813.0,339.3 815.0,336.8 816.0,336.3 818.0,338.1 820.0,340.7 821.0,340.8 866.0,340.8 866.0,340.8 160.0,340.8"/>
</g>
<path d="M137.5 72.5V352.5M206.5 72.5V352.5M274.5 72.5V352.5M343.5 72.5V352.5M411.5 72.5V352.5M480.5 72.5V352.5M548.5 72.5V352.5M617.5 72.5V352.5M685.5 72.5V352.5M753.5 72.5V352.5M822.5 72.5V352.5M890.5 72.5V352.5M125.5 339.5H900.5M125.5 306.5H900.5M125.5 273.5H900.5M125.5 239.5H900.5M125.5 206.5H900.5M125.5 172.5H900.5M125.5 139.5H900.5M125.5 106.5H900.5M125.5 72.5H900.5" stroke="#b0b0b0" stroke-width="1.11" fill="none"/>
<rect x="125.5" y="72.5" width="775" height="280" fill="none" stroke="#000" stroke-width="1.11"/>
<path d="M137.5 352.5V357.36M206.5 352.5V357.36M274.5 352.5V357.36M343.5 352.5V357.36M411.5 352.5V357.36M480.5 352.5V357.36M548.5 352.5V357.36M617.5 352.5V357.36M685.5 352.5V357.36M753.5 352.5V357.36M822.5 352.5V357.36M890.5 352.5V357.36M125.5 339.5H120.64M125.5 306.5H120.64M125.5 273.5H120.64M125.5 239.5H120.64M125.5 206.5H120.64M125.5 172.5H120.64M125.5 139.5H120.64M125.5 106.5H120.64M125.5 72.5H120.64" stroke="#000" stroke-width="1.11" fill="none"/>
<text transform="translate(61.39 414.12) rotate(-30)" font-size="14.10" textLength="84.62" lengthAdjust="spacingAndGlyphs">30-Jun-2017</text>
<text transform="translate(134.12 411.65) rotate(-30)" font-size="14.10" textLength="79.75" lengthAdjust="spacingAndGlyphs">03-Jul-2017</text>
<text transform="translate(202.58 411.65) rotate(-30)" font-size="14.10" textLength="79.75" lengthAdjust="spacingAndGlyphs">06-Jul-2017</text>
<text transform="translate(271.03 411.65) rotate(-30)" font-size="14.10" textLength="79.75" lengthAdjust="spacingAndGlyphs">09-Jul-2017</text>
<text transform="translate(339.49 411.65) rotate(-30)" font-size="14.10" textLength="79.75" lengthAdjust="spacingAndGlyphs">12-Jul-2017</text>
<text transform="translate(407.94 411.65) rotate(-30)" font-size="14.10" textLength="79.75" lengthAdjust="spacingAndGlyphs">15-Jul-2017</text>
<text transform="translate(476.39 411.65) rotate(-30)" font-size="14.10" textLength="79.75" lengthAdjust="spacingAndGlyphs">18-Jul-2017</text>
<text transform="translate(544.85 411.65) rotate(-30)" font-size="14.10" textLength="79.75" lengthAdjust="spacingAndGlyphs">21-Jul-2017</text>
<text transform="translate(613.30 411.65) rotate(-30)" font-size="14.10" textLength="79.75" lengthAdjust="spacingAndGlyphs">24-Jul-2017</text>
<text transform="translate(681.76 411.65) rotate(-30)" font-size="14.10" textLength="79.75" lengthAdjust="spacingAndGlyphs">27-Jul-2017</text>
<text transform="translate(750.21 411.65) rotate(-30)" font-size="14.10" textLength="79.75" lengthAdjust="spacingAndGlyphs">30-Jul-2017</text>
<text transform="translate(810.64 416.29) rotate(-30)" font-size="14.10" textLength="89.25" lengthAdjust="spacingAndGlyphs">02-Aug-2017</text>
<text x="115.28" y="344.78" font-size="14.10" text-anchor="end" textLength="21.875" lengthAdjust="spacingAndGlyphs">0.0</text>
<text x="115.28" y="311.40" font-size="14.10" text-anchor="end" textLength="21.875" lengthAdjust="spacingAndGlyphs">0.5</text>
<text x="115.28" y="278.03" font-size="14.10" text-anchor="end" textLength="21.875" lengthAdjust="spacingAndGlyphs">1.0</text>
<text x="115.28" y="244.65" font-size="14.10" text-anchor="end" textLength="21.875" lengthAdjust="spacingAndGlyphs">1.5</text>
<text x="115.28" y="211.28" font-size="14.10" text-anchor="end" textLength="21.875" lengthAdjust="spacingAndGlyphs">2.0</text>
<text x="115.28" y="177.90" font-size="14.10" text-anchor="end" textLength="21.875" lengthAdjust="spacingAndGlyphs">2.5</text>
<text x="115.28" y="144.53" font-size="14.10" text-anchor="end" textLength="21.875" lengthAdjust="spacingAndGlyphs">3.0</text>
<text x="115.28" y="111.15" font-size="14.10" text-anchor="end" textLength="21.875" lengthAdjust="spacingAndGlyphs">3.5</text>
<text x="115.28" y="77.78" font-size="14.10" text-anchor="end" textLength="21.875" lengthAdjust="spacingAndGlyphs">4.0</text>
<text x="512.5" y="64.17" font-size="17.00" text-anchor="middle" textLength="521.00" lengthAdjust="spacingAndGlyphs">Age contribution to BC concentrations (ECLIPSEv6 and GFED4)</text>
<g transform="translate(80.25 366.01) rotate(-90)">
<text x="0" y="-0.51" font-size="19.80" textLength="279.10" lengthAdjust="spacingAndGlyphs">Surface concentration (ng m</text>
<text x="299.26" y="-0.51" font-size="19.80">)</text>
<text x="278.67" y="-7.95" font-size="13.86">−3</text>
</g>
<rect x="125.50" y="443.50" width="775.00" height="42.00" fill="#a70b44" shape-rendering="crispEdges"/>
<rect x="151.33" y="443.50" width="749.17" height="42.00" fill="#b81e48" shape-rendering="crispEdges"/>
<rect x="177.17" y="443.50" width="723.33" height="42.00" fill="#cb334d" shape-rendering="crispEdges"/>
<rect x="203.00" y="443.50" width="697.50" height="42.00" fill="#d9444d" shape-rendering="crispEdges"/>
<rect x="228.83" y="443.50" width="671.67" height="42.00" fill="#e45549" shape-rendering="crispEdges"/>
<rect x="254.67" y="443.50" width="645.83" height="42.00" fill="#ee6445" shape-rendering="crispEdges"/>
<rect x="280.50" y="443.50" width="620.00" height="42.00" fill="#f57748" shape-rendering="crispEdges"/>
<rect x="306.33" y="443.50" width="594.17" height="42.00" fill="#f98e52" shape-rendering="crispEdges"/>
<rect x="332.17" y="443.50" width="568.33" height="42.00" fill="#fba35c" shape-rendering="crispEdges"/>
<rect x="358.00" y="443.50" width="542.50" height="42.00" fill="#fdb768" shape-rendering="crispEdges"/>
<rect x="383.83" y="443.50" width="516.67" height="42.00" fill="#fdc776" shape-rendering="crispEdges"/>
<rect x="409.67" y="443.50" width="490.83" height="42.00" fill="#fed884" shape-rendering="crispEdges"/>
<rect x="435.50" y="443.50" width="465.00" height="42.00" fill="#fee593" shape-rendering="crispEdges"/>
<rect x="461.33" y="443.50" width="439.17" height="42.00" fill="#fff0a6" shape-rendering="crispEdges"/>
<rect x="487.17" y="443.50" width="413.33" height="42.00" fill="#fffab6" shape-rendering="crispEdges"/>
<rect x="513.00" y="443.50" width="387.50" height="42.00" fill="#fbfdb8" shape-rendering="crispEdges"/>
<rect x="538.83" y="443.50" width="361.67" height="42.00" fill="#f3faac" shape-rendering="crispEdges"/>
<rect x="564.67" y="443.50" width="335.83" height="42.00" fill="#eaf79e" shape-rendering="crispEdges"/>
<rect x="590.50" y="443.50" width="310.00" height="42.00" fill="#ddf19a" shape-rendering="crispEdges"/>
<rect x="616.33" y="443.50" width="284.17" height="42.00" fill="#c8e99e" shape-rendering="crispEdges"/>
<rect x="642.17" y="443.50" width="258.33" height="42.00" fill="#b5e1a2" shape-rendering="crispEdges"/>
<rect x="668.00" y="443.50" width="232.50" height="42.00" fill="#9fd8a4" shape-rendering="crispEdges"/>
<rect x="693.83" y="443.50" width="206.67" height="42.00" fill="#86cfa5" shape-rendering="crispEdges"/>
<rect x="719.67" y="443.50" width="180.83" height="42.00" fill="#71c6a5" shape-rendering="crispEdges"/>
<rect x="745.50" y="443.50" width="155.00" height="42.00" fill="#5cb7aa" shape-rendering="crispEdges"/>
<rect x="771.33" y="443.50" width="129.17" height="42.00" fill="#4ba4b1" shape-rendering="crispEdges"/>
<rect x="797.17" y="443.50" width="103.33" height="42.00" fill="#3990ba" shape-rendering="crispEdges"/>
<rect x="823.00" y="443.50" width="77.50" height="42.00" fill="#3a7eb8" shape-rendering="crispEdges"/>
<rect x="848.83" y="443.50" width="51.67" height="42.00" fill="#496aaf" shape-rendering="crispEdges"/>
<rect x="874.67" y="443.50" width="25.83" height="42.00" fill="#5758a6" shape-rendering="crispEdges"/>
<rect x="125.50" y="443.50" width="775.00" height="42.00" fill="none" stroke="#000" stroke-width="1.11"/>
<path d="M125.50 485.50V490.36M228.83 485.50V490.36M332.17 485.50V490.36M435.50 485.50V490.36M538.83 485.50V490.36M642.17 485.50V490.36M745.50 485.50V490.36M848.83 485.50V490.36" stroke="#000" stroke-width="1.11" fill="none"/>
<text x="125.00" y="505.28" font-size="14.10" text-anchor="middle" textLength="8.75" lengthAdjust="spacingAndGlyphs">0</text>
<text x="228.33" y="505.28" font-size="14.10" text-anchor="middle" textLength="8.75" lengthAdjust="spacingAndGlyphs">4</text>
<text x="331.67" y="505.28" font-size="14.10" text-anchor="middle" textLength="8.75" lengthAdjust="spacingAndGlyphs">8</text>
<text x="435.00" y="505.28" font-size="14.10" text-anchor="middle" textLength="17.50" lengthAdjust="spacingAndGlyphs">12</text>
<text x="538.33" y="505.28" font-size="14.10" text-anchor="middle" textLength="17.50" lengthAdjust="spacingAndGlyphs">16</text>
<text x="641.67" y="505.28" font-size="14.10" text-anchor="middle" textLength="17.50" lengthAdjust="spacingAndGlyphs">20</text>
<text x="745.00" y="505.28" font-size="14.10" text-anchor="middle" textLength="17.50" lengthAdjust="spacingAndGlyphs">24</text>
<text x="848.33" y="505.28" font-size="14.10" text-anchor="middle" textLength="17.50" lengthAdjust="spacingAndGlyphs">28</text>
<text x="512.50" y="468.08" font-size="14.10" text-anchor="middle" textLength="34.75" lengthAdjust="spacingAndGlyphs">Days</text>
</svg></body></html>
